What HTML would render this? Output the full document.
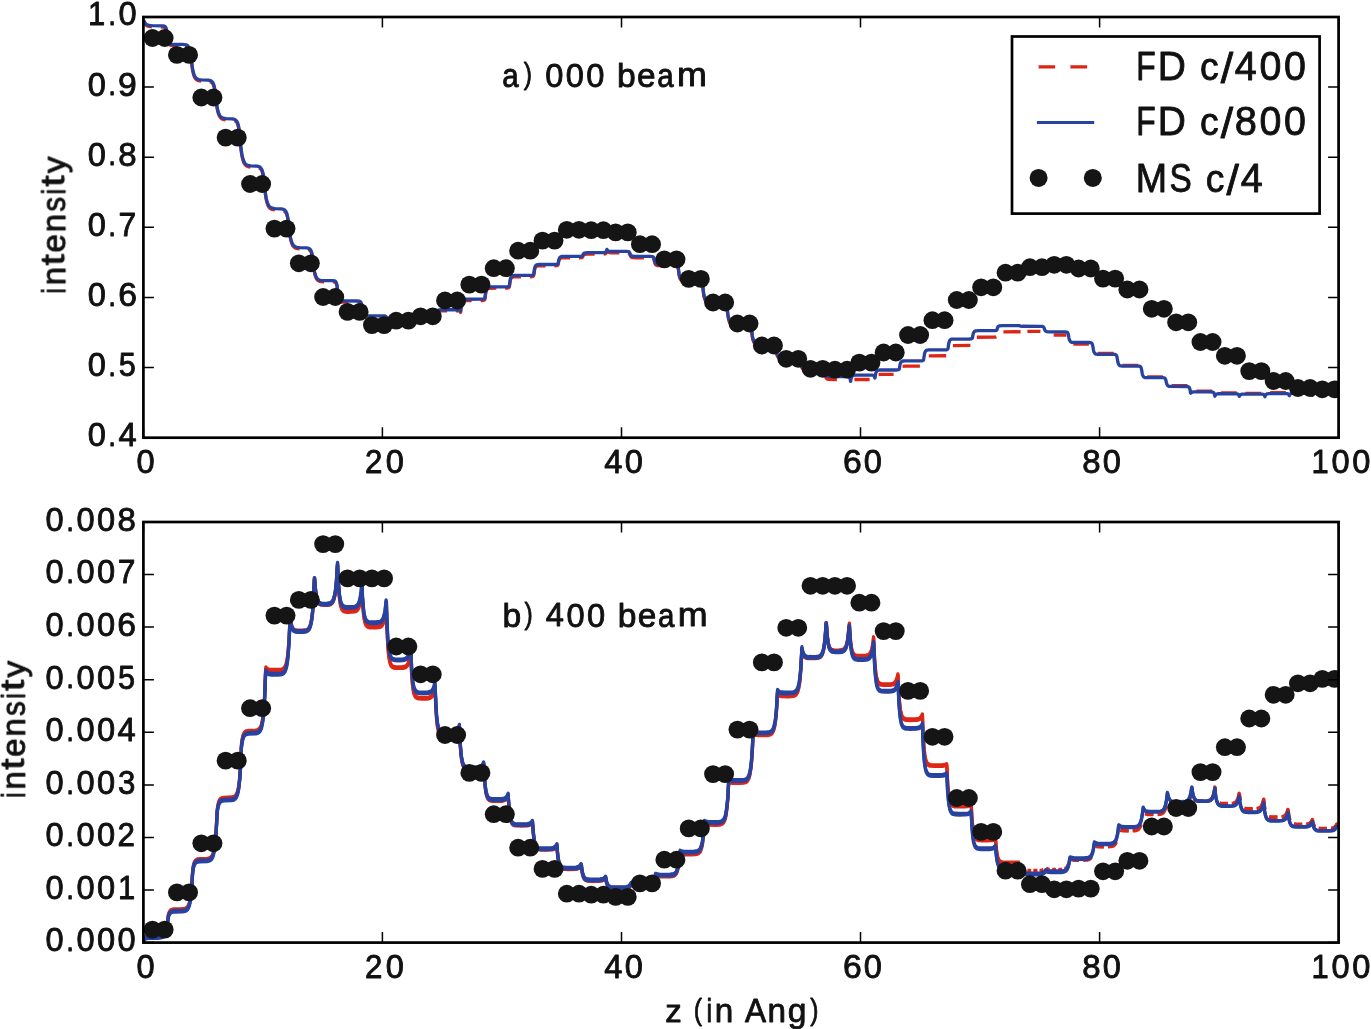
<!DOCTYPE html>
<html lang="en"><head><meta charset="utf-8"><title>FD vs MS beam intensities</title><style>html,body{margin:0;padding:0;background:#fff;}body{width:1371px;height:1029px;overflow:hidden;font-family:"Liberation Sans",sans-serif;}svg{display:block;}</style></head><body>
<svg width="1371" height="1029" viewBox="0 0 1371 1029" font-family="'Liberation Sans', sans-serif" fill="#111111">
<rect width="1371" height="1029" fill="#ffffff"/>
<defs><clipPath id="c1"><rect x="143.4" y="17.0" width="1195.1999999999998" height="420.7"/></clipPath><clipPath id="c2"><rect x="143.4" y="522.0" width="1195.1999999999998" height="420.6"/></clipPath></defs>
<g clip-path="url(#c1)" fill="none" stroke-linejoin="round">
<path d="M143.4,20.17 L143.9,21.62 L144.7,23.23 L145.4,24.36 L146.4,25.36 L147.4,25.98 L148.7,26.44 L150.2,26.73 L151.9,26.88 M160.9,27.00 L162.9,27.04 L164.2,27.21 L164.9,27.56 L165.7,28.45 L166.2,29.74 L166.7,32.19 L167.4,38.50 L167.9,41.23 L168.4,42.92 L169.2,44.31 L169.9,44.98 L171.2,45.42 L172.9,45.57 L176.7,45.60 M185.4,45.88 L186.9,46.37 L187.9,47.11 L188.9,48.54 L189.7,50.44 L190.2,52.36 L190.7,55.04 L191.9,65.67 L192.7,70.59 L193.4,73.95 L194.4,76.84 L195.4,78.58 L196.2,79.41 L196.9,79.98 L197.7,80.36 L198.7,80.70 L201.2,81.06 M209.9,81.63 L210.7,81.89 L211.4,82.30 L212.4,83.26 L213.4,85.05 L214.2,87.35 L214.7,89.60 L215.2,92.68 L216.2,101.75 L216.9,107.23 L217.9,112.07 L218.9,115.07 L219.4,116.12 L220.2,117.28 L221.4,118.50 L222.2,118.95 L223.2,119.35 L225.7,119.80 M234.7,120.66 L235.4,121.06 L236.2,121.70 L237.2,123.18 L237.9,125.07 L238.7,128.11 L239.2,131.09 L239.7,135.15 L240.7,146.33 L241.4,152.60 L242.2,156.98 L243.2,160.85 L243.7,162.20 L244.4,163.70 L245.2,164.75 L245.9,165.49 L246.7,166.00 L247.7,166.46 L248.9,166.79 L250.4,167.00 M259.1,167.85 L260.4,168.63 L261.4,169.87 L262.1,171.47 L262.9,174.02 L263.4,176.53 L263.9,179.95 L264.9,189.96 L265.6,195.98 L266.6,201.29 L267.6,204.59 L268.1,205.74 L268.9,207.02 L269.6,207.91 L270.4,208.54 L271.1,208.98 L272.1,209.37 L273.4,209.65 L274.9,209.83 M283.9,210.75 L284.9,211.41 L285.9,212.64 L286.6,214.22 L287.4,216.74 L287.9,219.22 L288.4,222.60 L289.4,231.84 L290.1,236.99 L290.9,240.60 L291.9,243.78 L292.4,244.89 L293.1,246.12 L293.9,246.99 L294.6,247.59 L295.6,248.13 L296.6,248.46 L297.9,248.70 L299.6,248.87 M308.4,249.43 L309.4,249.88 L310.4,250.83 L311.1,252.14 L311.9,254.41 L312.6,258.32 L313.6,267.04 L314.4,272.04 L315.1,275.35 L316.1,278.08 L316.6,278.98 L317.4,279.94 L318.1,280.57 L318.9,280.98 L319.9,281.33 L320.9,281.53 L324.1,281.75 M332.9,281.84 L334.1,281.96 L335.1,282.32 L335.9,283.04 L336.4,284.02 L336.9,285.77 L337.1,287.12 L337.9,293.45 L338.4,296.58 L339.1,299.31 L339.9,300.72 L340.4,301.25 L340.9,301.59 L342.1,302.00 L344.1,302.17 L348.6,302.20 M357.6,302.21 L359.1,302.30 L359.9,302.51 L360.4,302.84 L360.9,303.55 L361.4,305.04 L361.6,306.33 L362.1,310.37 L362.6,313.28 L363.1,314.93 L363.9,316.17 L364.6,316.70 L365.9,317.00 L373.4,317.10 M382.1,317.10 L384.4,317.16 L385.4,317.39 L385.9,317.70 L386.6,318.69 L387.1,319.12 L387.6,319.37 L388.4,319.56 L390.4,319.69 L397.9,319.70 M406.9,319.70 L410.4,319.65 L411.6,319.36 L411.9,319.21 L412.4,317.63 L412.9,316.58 L413.6,315.79 L414.4,315.45 L416.4,315.23 L422.6,315.20 M431.4,315.20 L434.9,315.14 L435.6,315.02 L436.1,314.81 L436.4,314.44 L436.9,312.91 L437.4,312.04 L437.9,311.55 L438.6,311.18 L440.6,310.93 L447.1,310.90 M455.9,310.90 L458.4,310.95 L459.4,311.14 L460.1,311.63 L460.6,312.43 L461.1,307.85 L461.6,304.69 L462.4,302.32 L462.9,301.55 L463.4,301.12 L464.1,300.79 L465.4,300.61 L471.6,300.55 M480.6,300.55 L482.6,300.51 L483.6,300.37 L484.4,300.01 L484.9,299.41 L485.1,298.23 L485.6,293.87 L486.1,291.39 L486.6,289.99 L487.4,288.94 L488.1,288.49 L489.4,288.23 L496.4,288.15 M505.1,288.15 L507.1,288.11 L508.1,287.95 L508.9,287.55 L509.4,286.88 L509.9,282.77 L510.4,280.17 L511.1,278.21 L511.9,277.37 L512.6,277.02 L513.9,276.81 L520.9,276.75 M529.9,276.75 L532.4,276.59 L533.1,276.27 L533.6,275.73 L533.9,274.61 L534.4,270.82 L534.9,268.67 L535.4,267.45 L536.1,266.53 L536.9,266.14 L538.1,265.92 L545.6,265.85 M554.4,265.85 L556.9,265.71 L557.6,265.41 L558.1,264.93 L558.6,261.98 L559.1,260.15 L559.9,258.78 L560.6,258.19 L561.4,257.94 L562.6,257.80 L570.1,257.75 M578.9,257.75 L581.4,257.67 L582.4,257.40 L583.4,255.31 L584.1,254.59 L584.9,254.28 L586.9,254.07 L594.6,254.05 M603.6,254.02 L605.1,253.81 L605.9,253.32 L606.4,252.50 L606.9,250.80 L607.9,252.05 L608.6,252.45 L609.4,252.62 L611.6,252.74 L619.4,252.75 M628.1,252.88 L628.9,253.16 L629.4,253.61 L630.6,256.36 L631.4,257.16 L632.1,257.50 L634.4,257.73 L643.9,257.75 M652.9,258.12 L653.4,258.54 L653.9,259.41 L654.6,262.34 L655.1,263.80 L655.6,264.62 L656.4,265.24 L657.4,265.55 L658.6,265.66 L668.6,265.70 M677.4,266.55 L677.9,267.49 L678.4,269.47 L679.1,275.17 L679.6,277.52 L680.1,278.85 L680.9,279.85 L681.9,280.36 L683.1,280.54 L693.1,280.60 M701.9,283.08 L702.6,286.19 L703.6,294.37 L704.1,297.12 L704.9,299.61 L705.6,300.94 L706.1,301.47 L706.9,301.95 L708.4,302.34 L710.9,302.48 L717.6,302.50 M726.6,306.24 L727.1,308.93 L727.9,315.42 L728.4,318.46 L729.1,321.20 L729.6,322.29 L730.1,323.00 L730.6,323.47 L731.4,323.90 L732.9,324.26 L735.4,324.38 L742.4,324.40 M751.1,327.96 L751.6,330.90 L752.1,335.43 L752.6,338.62 L753.4,341.35 L753.9,342.36 L754.4,343.00 L755.4,343.66 L757.1,344.01 L766.9,344.10 M775.9,347.80 L776.6,353.24 L777.1,355.43 L777.9,357.07 L778.6,357.78 L779.6,358.13 L781.1,358.27 L791.6,358.30 M800.4,361.75 L800.9,364.75 L801.4,366.68 L802.1,368.12 L802.9,368.74 L803.9,369.05 L805.4,369.17 L816.1,369.20 M824.9,373.16 L825.4,375.87 L825.9,377.44 L826.4,378.33 L827.1,379.00 L827.9,379.29 L829.1,379.45 L836.9,379.50 M854.4,379.52 L869.6,379.50 M878.6,374.54 L881.1,374.41 L893.6,374.40 M902.6,366.28 L905.1,366.11 L919.9,366.10 M928.9,355.83 L946.1,355.73 M952.9,345.54 L970.4,345.45 M976.9,337.25 L994.1,337.19 L995.6,337.09 L996.4,336.87 M1003.4,331.80 L1020.6,331.77 M1027.4,331.30 L1040.4,331.30 M1053.7,335.00 L1064.4,335.01 L1066.4,335.13 M1073.4,343.98 L1088.9,344.01 M1097.9,353.48 L1113.7,353.52 M1122.4,365.28 L1138.2,365.32 M1147.2,376.88 L1162.9,376.93 M1171.7,385.69 L1187.4,385.77 M1196.4,391.10 L1212.2,391.18 M1220.9,392.90 L1236.7,392.96 M1245.4,393.30 L1261.2,393.31 M1270.2,392.71 L1285.9,392.72 M1294.7,392.21 L1308.2,392.20 L1310.4,392.34 M1319.4,392.20 L1335.2,392.20" stroke="#dd2616" stroke-width="3.3"/>
<path d="M143.4,19.79 L144.4,22.07 L145.4,23.48 L146.7,24.52 L148.2,25.17 L149.9,25.53 L152.2,25.71 L163.2,25.86 L164.4,26.09 L165.2,26.56 L165.7,27.25 L165.9,27.79 L166.4,29.57 L167.4,37.30 L168.2,40.98 L168.9,42.75 L169.4,43.39 L169.9,43.78 L170.9,44.16 L172.4,44.35 L182.2,44.43 L184.9,44.60 L185.9,44.80 L186.9,45.17 L187.7,45.68 L188.4,46.50 L188.9,47.34 L189.4,48.50 L189.9,50.12 L190.4,52.39 L190.9,55.55 L192.2,66.32 L192.9,70.66 L193.9,74.38 L194.4,75.64 L195.2,77.02 L195.9,77.97 L196.7,78.61 L197.7,79.16 L198.9,79.56 L201.4,79.88 L208.2,80.14 L209.4,80.31 L210.4,80.59 L211.2,80.94 L211.9,81.51 L212.7,82.41 L213.2,83.29 L213.7,84.50 L214.2,86.15 L214.9,89.82 L215.4,93.43 L216.4,102.60 L217.4,108.74 L218.4,112.55 L218.9,113.87 L219.7,115.35 L220.4,116.39 L221.2,117.11 L222.2,117.75 L223.4,118.22 L225.9,118.63 L232.4,118.96 L234.4,119.37 L235.2,119.71 L235.9,120.25 L236.7,121.12 L237.2,121.98 L237.7,123.14 L238.2,124.73 L238.7,126.91 L239.2,129.89 L239.7,133.95 L240.9,147.47 L241.9,154.49 L242.4,156.93 L243.2,159.65 L243.7,161.00 L244.4,162.50 L245.2,163.55 L245.9,164.29 L246.9,164.94 L248.2,165.41 L250.7,165.82 L256.9,166.15 L258.1,166.35 L259.1,166.65 L259.9,167.04 L260.6,167.67 L261.6,169.12 L262.1,170.27 L262.6,171.84 L263.1,173.98 L263.6,176.90 L264.1,180.90 L265.1,191.01 L266.1,197.75 L266.6,200.09 L267.4,202.71 L267.9,204.00 L268.6,205.44 L269.4,206.45 L270.1,207.16 L271.1,207.78 L272.4,208.24 L274.9,208.63 L281.4,208.95 L283.4,209.35 L284.1,209.68 L284.9,210.21 L285.6,211.06 L286.1,211.89 L286.6,213.02 L287.1,214.57 L287.9,218.02 L288.4,221.40 L289.6,232.56 L290.4,237.14 L290.9,239.40 L291.6,241.92 L292.1,243.17 L292.9,244.56 L293.6,245.53 L294.4,246.21 L295.4,246.81 L296.6,247.26 L299.4,247.65 L307.1,247.97 L308.6,248.31 L309.4,248.68 L309.9,249.07 L310.4,249.63 L310.9,250.42 L311.4,251.57 L311.9,253.21 L312.6,257.12 L313.9,267.74 L314.6,272.10 L315.6,275.70 L316.4,277.36 L317.1,278.46 L317.9,279.18 L318.6,279.66 L319.6,280.06 L320.9,280.33 L324.1,280.55 L333.1,280.65 L334.4,280.82 L335.4,281.29 L336.1,282.26 L336.6,283.57 L337.1,285.92 L337.9,292.25 L338.4,295.38 L339.1,298.11 L339.6,299.15 L340.1,299.81 L340.6,300.24 L341.4,300.61 L343.1,300.92 L358.1,301.02 L359.4,301.15 L360.1,301.44 L360.6,301.93 L360.9,302.35 L361.4,303.84 L362.4,310.83 L362.9,313.02 L363.6,314.67 L364.1,315.20 L364.9,315.60 L365.9,315.80 L367.4,315.88 L382.6,315.90 L384.6,315.99 L385.4,316.19 L385.9,316.50 L386.6,317.49 L387.4,318.07 L388.1,318.31 L389.1,318.44 L410.1,318.46 L411.1,318.34 L411.9,318.01 L412.4,316.43 L412.9,315.38 L413.6,314.59 L414.4,314.25 L415.4,314.08 L416.9,314.01 L433.1,314.00 L435.4,313.87 L436.1,313.61 L436.4,313.24 L436.9,311.71 L437.6,310.56 L438.4,310.07 L439.4,309.82 L442.4,309.70 L458.1,309.74 L459.1,309.86 L459.6,310.03 L460.1,310.40 L460.6,311.16 L461.1,306.55 L461.6,303.37 L462.4,300.98 L462.9,300.21 L463.4,299.77 L464.4,299.38 L465.6,299.24 L481.9,299.19 L483.4,299.08 L484.1,298.83 L484.9,298.06 L485.1,296.88 L485.6,292.52 L486.1,290.04 L486.9,288.19 L487.6,287.39 L488.6,286.99 L490.1,286.83 L506.1,286.79 L507.6,286.71 L508.4,286.51 L508.9,286.20 L509.4,285.53 L509.9,281.42 L510.4,278.82 L511.1,276.86 L511.9,276.02 L512.9,275.60 L514.4,275.44 L530.6,275.39 L532.1,275.29 L532.9,275.07 L533.6,274.38 L533.9,273.26 L534.4,269.47 L534.6,268.24 L535.1,266.62 L535.9,265.41 L536.6,264.89 L537.6,264.62 L539.1,264.52 L554.9,264.49 L556.9,264.36 L557.6,264.06 L558.1,263.58 L558.6,260.63 L559.4,258.21 L560.1,257.17 L561.1,256.65 L562.1,256.48 L563.6,256.41 L579.4,256.40 L581.6,256.29 L582.4,256.05 L583.1,254.37 L583.9,253.41 L584.6,253.00 L585.4,252.83 L587.9,252.71 L602.9,252.69 L604.9,252.53 L605.6,252.19 L606.1,251.63 L606.6,250.46 L606.9,249.45 L607.6,250.47 L608.1,250.87 L608.9,251.17 L609.6,251.30 L612.1,251.39 L626.4,251.41 L628.4,251.59 L628.9,251.81 L629.4,252.26 L629.9,253.21 L630.4,254.56 L630.9,255.35 L631.6,255.95 L632.6,256.26 L635.1,256.39 L650.4,256.41 L652.4,256.58 L652.9,256.78 L653.4,257.20 L653.9,258.09 L654.9,261.92 L655.4,263.04 L656.1,263.88 L657.1,264.30 L659.6,264.49 L674.9,264.52 L676.1,264.63 L676.9,264.90 L677.4,265.35 L677.6,265.74 L678.1,267.10 L678.6,269.97 L679.1,273.97 L679.6,276.32 L680.4,278.08 L681.1,278.84 L682.1,279.22 L683.6,279.37 L698.6,279.47 L700.1,279.77 L700.6,280.04 L701.1,280.50 L701.9,281.88 L702.4,283.66 L702.9,286.72 L703.6,293.17 L704.4,296.93 L705.1,298.95 L705.6,299.74 L706.1,300.27 L706.6,300.62 L707.4,300.93 L709.1,301.21 L723.1,301.38 L724.4,301.63 L724.9,301.86 L725.4,302.26 L726.1,303.47 L726.9,306.20 L727.9,314.22 L728.6,318.37 L729.4,320.60 L729.9,321.48 L730.6,322.27 L731.6,322.79 L733.1,323.08 L735.9,323.19 L747.4,323.24 L748.9,323.44 L749.4,323.63 L749.9,323.99 L750.6,325.15 L751.1,326.76 L751.6,329.70 L752.4,336.01 L752.9,338.54 L753.6,340.71 L754.1,341.52 L754.9,342.21 L755.9,342.62 L757.6,342.84 L772.1,342.91 L773.4,342.99 L774.1,343.17 L774.6,343.48 L775.1,344.11 L775.6,345.45 L775.9,346.60 L776.6,352.04 L777.1,354.23 L777.9,355.87 L778.4,356.40 L778.9,356.71 L779.9,356.97 L781.1,357.07 L796.6,357.11 L797.9,357.18 L798.6,357.36 L799.4,357.88 L799.9,358.74 L800.4,360.55 L800.9,363.55 L801.4,365.48 L802.1,366.92 L802.9,367.54 L803.9,367.85 L805.4,367.97 L820.9,368.01 L822.9,368.17 L823.6,368.51 L824.1,369.08 L824.6,370.28 L825.6,374.32 L826.4,375.63 L827.1,376.18 L828.1,376.47 L829.6,376.58 L846.1,376.61 L848.1,376.72 L849.1,377.14 L849.6,377.74 L850.1,379.00 L850.6,381.36 L851.1,378.65 L851.6,377.11 L852.4,375.96 L852.9,375.59 L853.6,375.31 L854.9,375.15 L856.9,375.11 L870.4,375.10 L872.6,375.20 L873.6,375.56 L874.1,376.06 L874.6,377.12 L874.9,378.03 L875.1,377.17 L875.6,374.07 L876.1,372.31 L876.9,370.99 L877.4,370.56 L877.9,370.32 L878.9,370.10 L880.1,370.02 L896.1,369.99 L897.6,369.92 L898.4,369.74 L899.1,369.21 L899.4,368.64 L899.9,365.29 L900.1,364.21 L900.6,362.78 L901.4,361.70 L902.4,361.16 L903.4,360.98 L904.9,360.92 L920.9,360.88 L921.9,360.81 L922.6,360.64 L923.1,360.35 L923.6,359.75 L924.4,354.48 L924.9,352.50 L925.6,351.01 L926.4,350.37 L927.4,350.05 L928.6,349.94 L944.9,349.89 L946.4,349.80 L947.1,349.59 L947.9,348.94 L948.1,348.17 L948.6,344.20 L948.9,342.92 L949.4,341.22 L949.9,340.26 L950.6,339.54 L951.6,339.17 L953.1,339.03 L969.4,338.99 L971.4,338.80 L971.9,338.58 L972.4,338.12 L973.1,334.12 L973.6,332.64 L974.4,331.53 L975.4,330.97 L976.4,330.79 L977.9,330.72 L995.4,330.63 L996.1,330.48 L996.6,330.25 L996.9,329.84 L997.4,328.01 L997.9,326.96 L998.6,326.18 L999.6,325.79 L1002.4,325.61 L1017.9,325.61 L1019.1,325.69 L1020.6,326.12 L1022.1,326.27 L1040.2,326.30 L1042.2,326.40 L1043.2,326.72 L1043.7,327.19 L1044.2,328.18 L1044.7,329.68 L1045.2,330.60 L1045.9,331.29 L1046.7,331.58 L1049.2,331.79 L1064.9,331.82 L1066.7,332.03 L1067.4,332.49 L1067.9,333.25 L1068.4,334.85 L1068.9,337.77 L1069.4,339.82 L1070.2,341.35 L1070.9,342.01 L1071.9,342.34 L1073.2,342.46 L1088.9,342.51 L1090.4,342.60 L1091.2,342.80 L1091.9,343.42 L1092.4,344.44 L1092.9,346.58 L1093.4,349.80 L1093.9,351.75 L1094.7,353.21 L1095.4,353.83 L1096.4,354.15 L1097.7,354.26 L1113.4,354.31 L1114.7,354.38 L1115.4,354.55 L1115.9,354.83 L1116.4,355.42 L1116.9,356.66 L1117.9,362.22 L1118.4,363.90 L1119.2,365.16 L1119.9,365.70 L1120.9,365.97 L1122.2,366.07 L1137.7,366.11 L1139.2,366.20 L1139.9,366.40 L1140.7,367.02 L1141.2,368.04 L1141.7,370.18 L1142.2,373.33 L1142.7,375.22 L1143.4,376.64 L1144.2,377.25 L1145.2,377.55 L1146.7,377.67 L1162.2,377.71 L1164.2,377.89 L1164.9,378.28 L1165.4,378.93 L1165.9,380.29 L1166.4,382.70 L1166.9,384.34 L1167.4,385.28 L1168.2,385.98 L1169.2,386.33 L1170.7,386.47 L1186.2,386.51 L1188.2,386.71 L1188.7,386.94 L1189.2,387.43 L1189.7,388.45 L1190.2,390.60 L1190.4,392.44 L1190.7,393.27 L1191.2,392.67 L1191.7,392.34 L1192.4,392.09 L1193.4,391.96 L1208.9,391.90 L1212.2,391.98 L1213.2,392.24 L1213.9,392.92 L1214.4,394.05 L1214.9,396.24 L1215.4,395.14 L1216.2,394.32 L1217.2,393.90 L1218.7,393.74 L1234.4,393.70 L1236.9,393.79 L1237.7,393.99 L1238.2,394.30 L1238.7,394.97 L1239.2,396.37 L1239.4,396.38 L1239.9,395.39 L1240.4,394.83 L1241.2,394.41 L1242.2,394.20 L1245.2,394.10 L1261.9,394.13 L1263.2,394.29 L1263.9,394.69 L1264.4,395.35 L1264.9,396.72 L1265.4,395.41 L1266.2,394.32 L1267.2,393.76 L1268.7,393.55 L1286.9,393.57 L1287.9,393.82 L1288.4,394.16 L1288.9,394.90 L1289.2,395.53 L1289.4,395.65 L1289.9,394.50 L1290.7,393.64 L1291.7,393.21 L1292.9,393.05 L1307.4,393.00 L1310.2,393.09 L1310.9,393.28 L1311.4,393.60 L1311.9,394.26 L1312.4,395.39 L1312.9,394.36 L1313.4,393.77 L1314.2,393.33 L1315.4,393.08 L1338.4,393.00" stroke="#28429f" stroke-width="3.3"/>
<g fill="#151515"><circle cx="152.5" cy="38.0" r="8.9"/><circle cx="164.7" cy="38.0" r="8.9"/><circle cx="176.9" cy="54.9" r="8.9"/><circle cx="189.1" cy="54.9" r="8.9"/><circle cx="201.3" cy="97.5" r="8.9"/><circle cx="213.5" cy="97.5" r="8.9"/><circle cx="225.6" cy="137.6" r="8.9"/><circle cx="237.8" cy="137.6" r="8.9"/><circle cx="250.0" cy="184.0" r="8.9"/><circle cx="262.2" cy="184.0" r="8.9"/><circle cx="274.4" cy="228.6" r="8.9"/><circle cx="286.6" cy="228.6" r="8.9"/><circle cx="298.8" cy="263.3" r="8.9"/><circle cx="310.9" cy="263.3" r="8.9"/><circle cx="323.1" cy="297.0" r="8.9"/><circle cx="335.3" cy="297.0" r="8.9"/><circle cx="347.5" cy="311.9" r="8.9"/><circle cx="359.7" cy="311.9" r="8.9"/><circle cx="371.9" cy="325.1" r="8.9"/><circle cx="384.1" cy="325.1" r="8.9"/><circle cx="396.2" cy="320.7" r="8.9"/><circle cx="408.4" cy="320.7" r="8.9"/><circle cx="420.6" cy="316.3" r="8.9"/><circle cx="432.8" cy="316.3" r="8.9"/><circle cx="445.0" cy="300.5" r="8.9"/><circle cx="457.2" cy="300.5" r="8.9"/><circle cx="469.3" cy="284.6" r="8.9"/><circle cx="481.5" cy="284.6" r="8.9"/><circle cx="493.7" cy="268.2" r="8.9"/><circle cx="505.9" cy="268.2" r="8.9"/><circle cx="518.1" cy="250.7" r="8.9"/><circle cx="530.3" cy="250.7" r="8.9"/><circle cx="542.5" cy="240.6" r="8.9"/><circle cx="554.6" cy="240.6" r="8.9"/><circle cx="566.8" cy="229.8" r="8.9"/><circle cx="579.0" cy="229.8" r="8.9"/><circle cx="591.2" cy="230.2" r="8.9"/><circle cx="603.4" cy="230.2" r="8.9"/><circle cx="615.6" cy="232.4" r="8.9"/><circle cx="627.8" cy="232.4" r="8.9"/><circle cx="639.9" cy="244.2" r="8.9"/><circle cx="652.1" cy="244.2" r="8.9"/><circle cx="664.3" cy="259.4" r="8.9"/><circle cx="676.5" cy="259.4" r="8.9"/><circle cx="688.7" cy="278.9" r="8.9"/><circle cx="700.9" cy="278.9" r="8.9"/><circle cx="713.0" cy="302.5" r="8.9"/><circle cx="725.2" cy="302.5" r="8.9"/><circle cx="737.4" cy="323.5" r="8.9"/><circle cx="749.6" cy="323.5" r="8.9"/><circle cx="761.8" cy="345.5" r="8.9"/><circle cx="774.0" cy="345.5" r="8.9"/><circle cx="786.2" cy="358.8" r="8.9"/><circle cx="798.3" cy="358.8" r="8.9"/><circle cx="810.5" cy="368.8" r="8.9"/><circle cx="822.7" cy="368.8" r="8.9"/><circle cx="834.9" cy="369.7" r="8.9"/><circle cx="847.1" cy="369.7" r="8.9"/><circle cx="859.3" cy="362.6" r="8.9"/><circle cx="871.5" cy="362.6" r="8.9"/><circle cx="883.6" cy="352.5" r="8.9"/><circle cx="895.8" cy="352.5" r="8.9"/><circle cx="908.0" cy="335.0" r="8.9"/><circle cx="920.2" cy="335.0" r="8.9"/><circle cx="932.4" cy="320.2" r="8.9"/><circle cx="944.6" cy="320.2" r="8.9"/><circle cx="956.7" cy="300.0" r="8.9"/><circle cx="968.9" cy="300.0" r="8.9"/><circle cx="981.1" cy="287.3" r="8.9"/><circle cx="993.3" cy="287.3" r="8.9"/><circle cx="1005.5" cy="272.7" r="8.9"/><circle cx="1017.7" cy="272.7" r="8.9"/><circle cx="1029.9" cy="267.2" r="8.9"/><circle cx="1042.0" cy="267.2" r="8.9"/><circle cx="1054.2" cy="264.8" r="8.9"/><circle cx="1066.4" cy="264.8" r="8.9"/><circle cx="1078.6" cy="268.5" r="8.9"/><circle cx="1090.8" cy="268.5" r="8.9"/><circle cx="1103.0" cy="278.6" r="8.9"/><circle cx="1115.2" cy="278.6" r="8.9"/><circle cx="1127.3" cy="289.5" r="8.9"/><circle cx="1139.5" cy="289.5" r="8.9"/><circle cx="1151.7" cy="308.8" r="8.9"/><circle cx="1163.9" cy="308.8" r="8.9"/><circle cx="1176.1" cy="322.3" r="8.9"/><circle cx="1188.3" cy="322.3" r="8.9"/><circle cx="1200.4" cy="342.0" r="8.9"/><circle cx="1212.6" cy="342.0" r="8.9"/><circle cx="1224.8" cy="355.8" r="8.9"/><circle cx="1237.0" cy="355.8" r="8.9"/><circle cx="1249.2" cy="371.1" r="8.9"/><circle cx="1261.4" cy="371.1" r="8.9"/><circle cx="1273.6" cy="381.0" r="8.9"/><circle cx="1285.7" cy="381.0" r="8.9"/><circle cx="1297.9" cy="388.0" r="8.9"/><circle cx="1310.1" cy="388.0" r="8.9"/><circle cx="1322.3" cy="389.3" r="8.9"/><circle cx="1334.5" cy="389.3" r="8.9"/></g>
</g>
<g clip-path="url(#c2)" fill="none" stroke-linejoin="round">
<path d="M143.4,939.07 L144.2,937.55 L144.9,936.62 L145.9,935.93 L146.9,935.58 L149.4,935.27 L157.2,935.16 L159.9,935.00 L161.9,934.60 L162.7,934.29 L163.4,933.82 L164.2,933.11 L164.9,932.03 L165.7,930.40 L166.2,928.86 L167.2,924.15 L168.4,914.13 L169.2,912.03 L170.2,910.46 L170.7,909.99 L171.4,909.52 L173.2,909.02 L175.4,908.85 L181.9,908.70 L184.7,908.34 L185.7,907.99 L186.7,907.39 L187.4,906.67 L188.2,905.56 L188.9,903.89 L189.7,901.35 L190.7,895.81 L191.7,886.16 L192.7,869.49 L193.4,865.17 L193.9,863.28 L194.4,861.92 L194.9,860.95 L195.7,859.99 L196.7,859.26 L197.7,858.89 L199.9,858.58 L207.2,858.30 L208.7,858.04 L209.9,857.58 L210.9,856.90 L211.9,855.70 L212.7,854.26 L213.4,852.06 L214.4,847.28 L215.4,838.95 L216.2,828.85 L217.2,809.48 L217.7,806.00 L218.2,803.51 L218.7,801.72 L219.2,800.44 L219.7,799.52 L220.4,798.61 L221.2,798.05 L222.2,797.64 L224.4,797.29 L231.4,797.00 L232.9,796.73 L234.2,796.26 L235.2,795.56 L235.9,794.71 L236.7,793.43 L237.4,791.48 L238.2,788.53 L238.7,785.75 L239.7,777.24 L240.7,762.42 L241.4,744.82 L241.9,740.71 L242.4,737.76 L242.9,735.64 L243.4,734.13 L243.9,733.04 L244.7,731.96 L245.4,731.31 L246.4,730.82 L247.4,730.56 L248.7,730.41 L255.7,730.07 L257.1,729.76 L258.1,729.37 L259.1,728.67 L259.9,727.83 L260.6,726.55 L261.4,724.62 L262.1,721.68 L262.9,717.22 L263.9,707.51 L264.6,695.73 L265.6,670.04 L265.9,666.88 L266.4,667.62 L267.1,668.36 L268.1,668.91 L269.1,669.20 L270.6,669.39 L272.6,669.47 L279.1,669.38 L281.4,669.07 L282.4,668.76 L283.1,668.38 L283.9,667.79 L284.4,667.25 L285.4,665.57 L286.1,663.54 L286.9,660.47 L287.6,655.80 L288.1,651.41 L289.1,637.97 L290.1,615.74 L290.9,621.47 L291.4,623.97 L291.9,625.77 L292.4,627.05 L292.9,627.97 L293.6,628.89 L294.4,629.44 L295.9,629.98 L297.9,630.21 L302.1,630.24 L305.1,629.99 L306.6,629.59 L307.6,629.06 L308.6,628.14 L309.4,627.03 L310.4,624.60 L311.1,621.65 L311.9,617.18 L312.4,612.98 L313.4,600.12 L314.4,577.70 L314.6,577.92 L315.4,588.14 L315.9,592.61 L316.4,595.81 L316.9,598.10 L317.4,599.75 L317.9,600.92 L318.6,602.09 L319.1,602.61 L319.9,603.11 L321.4,603.61 L323.9,603.82 L327.1,603.76 L329.1,603.51 L330.6,603.00 L331.6,602.33 L332.6,601.16 L333.4,599.74 L334.1,597.59 L334.9,594.33 L335.4,591.26 L336.4,581.88 L337.4,565.52 L337.6,564.79 L338.4,582.85 L338.9,590.75 L339.4,596.40 L339.9,600.46 L340.6,604.49 L341.4,606.93 L342.1,608.41 L343.1,609.53 L344.1,610.10 L345.6,610.48 L348.1,610.65 L351.9,610.61 L354.4,610.34 L356.1,609.74 L357.4,608.78 L358.1,607.79 L358.9,606.28 L359.6,603.99 L360.1,601.85 L361.1,595.27 L361.9,587.29 L362.9,605.71 L363.4,611.58 L363.9,615.78 L364.4,618.79 L365.1,621.78 L365.6,623.09 L366.1,624.03 L367.1,625.18 L368.4,625.87 L369.9,626.20 L372.6,626.36 L376.4,626.31 L378.4,626.12 L379.9,625.76 L380.9,625.29 L381.9,624.46 L382.6,623.46 L383.4,621.94 L384.4,618.62 L385.4,612.84 L386.1,605.84 L386.4,608.10 L386.9,624.77 L387.4,636.71 L388.1,648.59 L388.6,653.78 L389.4,658.94 L390.1,662.07 L390.9,663.97 L391.6,665.12 L392.6,665.99 L393.6,666.43 L395.1,666.72 L398.6,666.86 L402.4,666.74 L404.4,666.40 L405.9,665.76 L406.6,665.17 L407.4,664.27 L408.1,662.92 L408.6,661.64 L409.6,657.74 L410.6,650.93 L411.4,668.76 L411.9,676.91 L412.4,682.75 L412.9,686.93 L413.4,689.93 L414.1,692.91 L414.9,694.71 L415.6,695.81 L416.4,696.47 L417.4,696.97 L418.9,697.30 L421.9,697.47 L426.4,697.40 L428.6,697.15 L430.1,696.70 L430.9,696.29 L431.6,695.66 L432.4,694.71 L432.9,693.81 L433.9,691.08 L434.9,686.31 L435.1,688.91 L435.9,707.04 L436.6,718.04 L437.1,722.85 L437.6,726.29 L438.4,729.72 L439.1,731.80 L439.9,733.06 L440.6,733.82 L441.6,734.39 L442.9,734.74 L445.4,734.95 L449.6,734.96 L452.4,734.82 L454.1,734.54 L455.1,734.19 L455.9,733.78 L456.6,733.14 L457.4,732.18 L458.4,730.09 L459.4,726.45 L460.1,742.60 L460.9,752.59 L461.4,756.96 L461.9,760.09 L462.4,762.33 L463.1,764.56 L463.9,765.91 L464.6,766.74 L465.6,767.35 L466.6,767.67 L468.1,767.88 L470.1,767.96 L477.1,767.86 L479.6,767.46 L480.6,767.05 L481.4,766.56 L482.1,765.82 L482.6,765.12 L483.6,762.98 L483.9,765.46 L484.6,778.97 L485.1,784.88 L485.6,789.11 L486.1,792.14 L486.6,794.31 L487.4,796.47 L488.1,797.78 L488.9,798.57 L489.6,799.06 L490.6,799.42 L491.9,799.63 L494.4,799.77 L498.9,799.77 L501.4,799.67 L503.1,799.45 L504.9,798.86 L506.1,797.92 L507.1,796.53 L508.1,794.10 L508.9,806.06 L509.4,811.29 L509.9,815.03 L510.4,817.72 L511.1,820.39 L511.9,822.00 L512.6,822.99 L513.4,823.58 L514.1,823.94 L516.1,824.35 L521.9,824.49 L527.1,824.31 L528.9,824.00 L530.4,823.36 L531.4,822.51 L532.4,821.04 L532.6,823.11 L533.4,833.14 L534.1,839.22 L534.6,841.88 L535.4,844.52 L536.1,846.13 L536.9,847.10 L537.6,847.69 L538.4,848.05 L539.4,848.32 L540.6,848.48 L547.1,848.58 L551.6,848.36 L553.4,847.97 L554.1,847.64 L554.9,847.14 L555.9,846.06 L556.9,844.36 L557.6,853.62 L558.4,859.24 L558.9,861.69 L559.4,863.45 L559.9,864.71 L560.6,865.97 L561.4,866.73 L562.1,867.19 L563.1,867.53 L564.1,867.71 L568.9,867.89 L575.4,867.75 L577.4,867.43 L578.9,866.82 L580.1,865.74 L581.1,864.14 L581.4,865.31 L582.1,870.97 L582.6,873.45 L583.1,875.22 L583.6,876.49 L584.4,877.75 L585.1,878.52 L586.1,879.09 L587.6,879.48 L590.1,879.66 L597.4,879.67 L600.9,879.48 L602.4,879.18 L603.6,878.67 L604.6,877.90 L605.6,876.74 L606.1,879.79 L606.6,881.98 L607.1,883.54 L607.9,885.10 L608.6,886.04 L609.6,886.75 L610.6,887.12 L612.1,887.36 L615.4,887.48 L622.4,887.47 L625.1,887.35 L626.9,887.11 L628.4,886.60 L629.4,885.93 L630.1,885.12 L631.1,883.36 L631.4,883.14 L632.1,883.91 L633.1,884.49 L634.1,884.79 L635.6,884.98 L639.1,885.09 L645.6,885.06 L648.1,884.93 L649.9,884.66 L650.9,884.33 L651.9,883.76 L652.6,883.06 L653.4,882.01 L654.1,880.42 L654.6,878.92 L655.6,874.32 L657.4,874.95 L659.4,875.21 L664.6,875.29 L670.1,875.20 L672.1,875.01 L673.6,874.62 L674.6,874.12 L675.6,873.24 L676.4,872.18 L677.1,870.56 L678.1,867.04 L679.1,860.91 L680.1,851.81 L680.6,852.23 L681.4,852.65 L682.4,852.97 L683.4,853.13 L686.4,853.28 L692.4,853.26 L695.1,853.12 L696.9,852.82 L698.4,852.20 L699.4,851.38 L700.4,849.95 L701.1,848.22 L701.9,845.59 L702.4,843.12 L703.4,835.56 L704.4,822.37 L706.1,823.23 L708.4,823.59 L715.6,823.67 L719.6,823.43 L721.4,822.98 L722.6,822.26 L723.6,821.18 L724.6,819.31 L725.4,817.05 L726.1,813.61 L727.1,806.11 L727.9,797.02 L728.6,783.23 L728.9,780.32 L729.6,780.90 L730.4,781.26 L731.4,781.52 L732.6,781.68 L739.4,781.77 L743.6,781.54 L745.4,781.12 L746.6,780.45 L747.6,779.44 L748.6,777.69 L749.4,775.56 L750.1,772.34 L750.9,767.45 L751.4,762.85 L752.4,748.77 L753.1,731.70 L754.1,732.87 L755.1,733.47 L756.6,733.87 L758.6,734.04 L764.4,734.07 L767.9,733.90 L769.1,733.69 L770.1,733.39 L770.9,733.03 L771.6,732.47 L772.6,731.27 L773.6,729.16 L774.4,726.61 L775.1,722.74 L775.9,716.86 L776.4,711.34 L777.4,694.43 L777.6,691.99 L778.1,692.90 L778.9,693.81 L779.6,694.35 L780.4,694.69 L781.4,694.94 L782.9,695.10 L787.6,695.18 L791.9,695.02 L794.1,694.57 L795.1,694.09 L795.9,693.52 L796.6,692.66 L797.1,691.84 L797.9,690.11 L798.6,687.47 L799.4,683.48 L799.9,679.72 L800.9,668.23 L801.9,648.51 L802.6,651.89 L803.1,653.37 L803.6,654.42 L804.1,655.18 L804.9,655.94 L805.6,656.39 L806.4,656.67 L808.1,656.97 L810.9,657.07 L815.1,657.02 L817.6,656.79 L819.1,656.39 L820.1,655.86 L821.1,654.94 L821.9,653.83 L822.6,652.14 L823.4,649.58 L824.4,643.99 L825.4,634.25 L826.1,622.43 L826.4,622.91 L826.9,630.62 L827.4,636.14 L827.9,640.10 L828.6,644.03 L829.4,646.42 L830.1,647.87 L831.1,648.95 L831.9,649.40 L832.6,649.68 L834.1,649.94 L836.4,650.04 L839.4,649.98 L841.4,649.75 L842.6,649.40 L843.6,648.89 L844.4,648.26 L845.1,647.31 L845.9,645.87 L846.4,644.51 L847.4,640.36 L848.1,635.33 L849.1,624.36 L849.4,623.19 L849.9,632.35 L850.4,638.91 L850.9,643.61 L851.4,646.98 L852.1,650.33 L852.9,652.37 L853.9,653.89 L854.9,654.67 L856.1,655.14 L857.9,655.39 L861.1,655.47 L864.6,655.37 L866.1,655.21 L867.4,654.92 L868.4,654.49 L869.4,653.73 L870.1,652.82 L870.9,651.44 L871.9,648.42 L872.9,643.16 L873.6,636.78 L874.6,658.61 L875.4,668.56 L875.9,672.91 L876.4,676.02 L876.9,678.26 L877.6,680.48 L878.4,681.82 L879.1,682.64 L880.1,683.25 L881.4,683.62 L883.9,683.84 L888.6,683.84 L891.1,683.66 L892.9,683.28 L893.9,682.82 L894.6,682.25 L895.4,681.40 L895.9,680.61 L896.9,678.16 L897.9,673.89 L898.1,675.29 L898.6,687.65 L899.1,696.51 L899.9,705.32 L900.4,709.17 L900.9,711.93 L901.6,714.67 L902.4,716.33 L903.1,717.34 L903.9,717.96 L904.9,718.42 L905.9,718.65 L907.6,718.82 L910.4,718.88 L914.1,718.85 L916.6,718.70 L918.6,718.28 L919.4,717.97 L920.1,717.48 L920.9,716.75 L921.4,716.07 L922.4,713.96 L923.1,733.06 L923.9,745.55 L924.4,751.01 L924.9,754.92 L925.4,757.72 L926.1,760.50 L926.9,762.19 L927.9,763.46 L929.1,764.22 L930.6,764.59 L934.6,764.78 L942.4,764.69 L944.9,764.37 L945.9,764.05 L946.6,763.66 L946.9,765.99 L947.6,781.49 L948.1,788.27 L948.6,793.13 L949.1,796.61 L949.6,799.10 L950.4,801.58 L951.1,803.08 L951.6,803.74 L952.4,804.39 L953.4,804.88 L954.4,805.13 L957.6,805.37 L964.1,805.34 L966.9,805.12 L968.6,804.66 L969.4,804.28 L970.1,803.71 L971.1,802.45 L971.9,816.43 L972.4,822.88 L972.9,827.51 L973.4,830.82 L974.1,834.12 L974.9,836.12 L975.6,837.33 L976.4,838.07 L977.4,838.62 L978.6,838.95 L980.6,839.13 L986.9,839.19 L991.4,839.09 L993.6,838.80 L994.6,838.50 L995.4,838.14 L995.6,839.61 L996.4,848.50 L997.1,853.89 L997.6,856.24 L998.1,857.93 L998.9,859.61 L999.6,860.63 L1000.4,861.25 L1001.1,861.62 L1002.1,861.90 L1003.6,862.09 L1010.1,862.20 L1019.9,862.10 M1021.1,866.80 L1021.9,868.26 L1022.6,869.14 L1023.6,869.80 L1024.9,870.20 M1027.4,870.44 L1031.2,870.49 M1033.4,870.50 L1037.4,870.47 M1039.7,870.39 L1041.9,870.13 L1043.4,869.64 M1045.9,867.95 L1046.7,868.56 L1047.4,868.93 L1048.4,869.21 L1049.7,869.37 M1052.2,869.48 L1055.9,869.49 M1058.4,869.48 L1062.2,869.33 M1064.7,868.82 L1065.9,868.13 L1066.9,867.12 L1067.7,865.88 L1068.4,864.01 M1070.7,857.32 L1071.7,858.04 L1073.2,858.52 L1075.2,858.73 L1078.9,858.79 M1083.2,858.77 L1086.7,858.60 L1088.7,858.17 L1089.4,857.84 L1090.2,857.33 L1090.9,856.55 L1091.4,855.83 M1095.7,844.77 L1096.7,845.22 L1098.2,845.53 L1103.9,845.74 M1107.9,845.73 L1111.4,845.48 L1112.4,845.25 L1113.4,844.84 L1114.2,844.35 L1114.9,843.59 L1115.7,842.44 L1116.2,841.35 M1120.4,829.20 L1121.4,829.63 L1122.9,829.93 L1128.7,830.13 M1132.7,830.10 L1134.7,829.99 L1136.2,829.76 L1137.2,829.44 L1138.2,828.89 L1138.9,828.21 L1139.7,827.18 L1140.4,825.62 L1140.9,824.15 M1145.2,813.04 L1146.2,813.54 L1147.7,813.89 L1149.9,814.05 L1153.4,814.09 M1157.7,814.01 L1159.7,813.84 L1161.2,813.50 L1162.2,813.05 L1163.2,812.26 L1163.9,811.32 L1164.7,809.88 L1165.4,807.69 L1165.9,805.64 M1169.9,801.86 L1170.9,802.75 L1172.4,803.35 L1174.4,803.61 L1178.2,803.68 M1182.4,803.61 L1184.4,803.43 L1185.9,803.08 L1186.9,802.62 L1187.9,801.82 L1188.7,800.85 L1189.4,799.37 L1190.2,797.14 L1190.7,795.04 M1194.7,798.84 L1195.7,799.84 L1196.4,800.26 L1197.2,800.51 L1199.2,800.80 L1202.9,800.87 M1207.2,800.71 L1208.9,800.39 L1210.2,799.88 L1211.2,799.12 L1212.2,797.81 L1212.9,796.21 L1213.7,793.78 L1214.2,791.50 L1214.9,787.02 L1215.4,791.69 M1219.7,802.81 L1220.7,803.14 L1222.2,803.37 L1227.9,803.48 M1231.9,803.32 L1233.4,803.08 L1234.7,802.66 L1235.7,802.03 L1236.7,800.94 L1237.4,799.62 L1238.2,797.61 L1239.2,793.24 L1239.4,794.18 L1240.2,799.89 M1244.4,808.18 L1245.4,808.43 L1246.9,808.60 L1252.7,808.68 M1256.7,808.49 L1258.2,808.23 L1259.4,807.75 L1260.4,807.05 L1261.2,806.19 L1261.9,804.89 L1262.4,803.67 L1263.7,799.16 L1264.2,804.19 L1264.9,809.19 M1269.2,816.45 L1270.2,816.67 L1271.7,816.81 L1277.4,816.88 M1281.7,816.67 L1282.9,816.43 L1283.9,816.08 L1284.9,815.47 L1285.7,814.73 L1286.4,813.61 L1286.9,812.56 L1287.9,809.34 L1288.2,810.49 L1288.9,815.89 L1289.4,818.24 L1289.9,819.93 M1293.9,823.90 L1296.7,824.15 L1302.2,824.18 M1306.4,824.02 L1308.7,823.56 L1309.4,823.23 L1310.2,822.74 L1311.2,821.65 L1312.4,819.44 L1312.9,821.98 L1313.4,823.80 L1313.9,825.10 L1314.7,826.40 M1318.7,828.26 L1321.4,828.38 L1326.9,828.38 M1331.2,828.20 L1332.9,827.86 L1334.2,827.33 L1334.9,826.77 L1335.7,825.93 L1336.7,824.10 L1336.9,823.90 L1338.4,823.90" stroke="#dd2616" stroke-width="3.3"/>
<path d="M143.4,940.67 L144.2,939.15 L144.9,938.22 L145.9,937.53 L146.9,937.18 L149.4,936.87 L157.2,936.76 L159.9,936.60 L161.9,936.20 L162.7,935.89 L163.4,935.42 L164.2,934.71 L164.9,933.63 L165.7,932.00 L166.2,930.46 L167.2,925.75 L168.4,915.73 L169.2,913.63 L170.2,912.06 L170.7,911.59 L171.4,911.12 L173.2,910.62 L175.4,910.45 L181.9,910.30 L184.7,909.94 L185.7,909.59 L186.7,908.99 L187.4,908.27 L188.2,907.16 L188.9,905.49 L189.7,902.95 L190.7,897.41 L191.7,887.76 L192.7,871.09 L193.4,866.77 L193.9,864.88 L194.4,863.52 L194.9,862.55 L195.7,861.59 L196.7,860.86 L197.7,860.49 L199.9,860.18 L207.2,859.90 L208.7,859.64 L209.9,859.18 L210.9,858.50 L211.9,857.30 L212.7,855.86 L213.4,853.66 L214.4,848.88 L215.4,840.55 L216.2,830.45 L217.2,811.08 L217.7,807.60 L218.2,805.11 L218.7,803.32 L219.2,802.04 L219.7,801.12 L220.4,800.21 L221.2,799.65 L222.2,799.24 L224.4,798.89 L231.4,798.60 L232.9,798.33 L234.2,797.86 L235.2,797.16 L235.9,796.31 L236.7,795.03 L237.4,793.08 L238.2,790.13 L238.7,787.35 L239.7,778.84 L240.7,764.02 L241.4,746.42 L241.9,742.31 L242.4,739.36 L242.9,737.24 L243.4,735.73 L243.9,734.64 L244.7,733.56 L245.4,732.91 L246.4,732.42 L247.4,732.16 L248.7,732.01 L255.7,731.67 L257.1,731.36 L258.1,730.97 L259.1,730.27 L259.9,729.43 L260.6,728.15 L261.4,726.22 L262.1,723.28 L262.9,718.82 L263.9,709.11 L264.6,697.33 L265.6,671.64 L265.9,668.48 L266.4,669.22 L267.1,669.96 L268.1,670.51 L269.1,670.80 L270.6,670.99 L272.6,671.07 L279.1,670.98 L281.4,670.67 L282.4,670.36 L283.1,669.98 L283.9,669.39 L284.4,668.85 L285.4,667.17 L286.1,665.14 L286.9,662.07 L287.6,657.40 L288.1,653.01 L289.1,639.57 L290.1,617.34 L290.9,623.07 L291.4,625.57 L291.9,627.37 L292.4,628.65 L292.9,629.57 L293.6,630.49 L294.4,631.04 L295.9,631.58 L297.9,631.81 L302.1,631.84 L305.1,631.59 L306.6,631.19 L307.6,630.66 L308.6,629.74 L309.4,628.63 L310.4,626.20 L311.1,623.25 L311.9,618.78 L312.4,614.58 L313.4,601.72 L314.4,579.30 L314.6,579.52 L315.4,589.74 L315.9,594.21 L316.4,597.41 L316.9,599.70 L317.4,601.35 L317.9,602.52 L318.6,603.69 L319.1,604.21 L319.9,604.71 L321.4,605.21 L323.9,605.42 L327.1,605.36 L329.1,605.11 L330.6,604.60 L331.6,603.93 L332.6,602.76 L333.4,601.34 L334.1,599.19 L334.9,595.93 L335.4,592.86 L336.4,583.48 L337.4,567.12 L337.6,566.39 L338.4,584.45 L338.9,592.35 L339.4,598.00 L339.9,602.06 L340.6,606.09 L341.4,608.53 L342.1,610.01 L343.1,611.13 L344.1,611.70 L345.6,612.08 L348.1,612.25 L351.9,612.21 L354.4,611.94 L356.1,611.34 L357.4,610.38 L358.1,609.39 L358.9,607.88 L359.6,605.59 L360.1,603.45 L361.1,596.87 L361.9,588.89 L362.9,607.31 L363.4,613.18 L363.9,617.38 L364.4,620.39 L365.1,623.38 L365.6,624.69 L366.1,625.63 L367.1,626.78 L368.4,627.47 L369.9,627.80 L372.6,627.96 L376.4,627.91 L378.4,627.72 L379.9,627.36 L380.9,626.89 L381.9,626.06 L382.6,625.06 L383.4,623.54 L384.4,620.22 L385.4,614.44 L386.1,607.44 L386.4,609.70 L386.9,626.37 L387.4,638.31 L388.1,650.19 L388.6,655.38 L389.4,660.54 L390.1,663.67 L390.9,665.57 L391.6,666.72 L392.6,667.59 L393.6,668.03 L395.1,668.32 L398.6,668.46 L402.4,668.34 L404.4,668.00 L405.9,667.36 L406.6,666.77 L407.4,665.87 L408.1,664.52 L408.6,663.24 L409.6,659.34 L410.6,652.53 L411.4,670.36 L411.9,678.51 L412.4,684.35 L412.9,688.53 L413.4,691.53 L414.1,694.51 L414.9,696.31 L415.6,697.41 L416.4,698.07 L417.4,698.57 L418.9,698.90 L421.9,699.07 L426.4,699.00 L428.6,698.75 L430.1,698.30 L430.9,697.89 L431.6,697.26 L432.4,696.31 L432.9,695.41 L433.9,692.68 L434.9,687.91 L435.1,690.51 L435.9,708.64 L436.6,719.64 L437.1,724.45 L437.6,727.89 L438.4,731.32 L439.1,733.40 L439.9,734.66 L440.6,735.42 L441.6,735.99 L442.9,736.34 L445.4,736.55 L449.6,736.56 L452.4,736.42 L454.1,736.14 L455.1,735.79 L455.9,735.38 L456.6,734.74 L457.4,733.78 L458.4,731.69 L459.4,728.05 L460.1,744.20 L460.9,754.19 L461.4,758.56 L461.9,761.69 L462.4,763.93 L463.1,766.16 L463.9,767.51 L464.6,768.34 L465.6,768.95 L466.6,769.27 L468.1,769.48 L470.1,769.56 L477.1,769.46 L479.6,769.06 L480.6,768.65 L481.4,768.16 L482.1,767.42 L482.6,766.72 L483.6,764.58 L483.9,767.06 L484.6,780.57 L485.1,786.48 L485.6,790.71 L486.1,793.74 L486.6,795.91 L487.4,798.07 L488.1,799.38 L488.9,800.17 L489.6,800.66 L490.6,801.02 L491.9,801.23 L494.4,801.37 L498.9,801.37 L501.4,801.27 L503.1,801.05 L504.9,800.46 L506.1,799.52 L507.1,798.13 L508.1,795.70 L508.9,807.66 L509.4,812.89 L509.9,816.63 L510.4,819.32 L511.1,821.99 L511.9,823.60 L512.6,824.59 L513.4,825.18 L514.1,825.54 L516.1,825.95 L521.9,826.09 L527.1,825.91 L528.9,825.60 L530.4,824.96 L531.4,824.11 L532.4,822.64 L532.6,824.71 L533.4,834.74 L534.1,840.82 L534.6,843.48 L535.4,846.12 L536.1,847.73 L536.9,848.70 L537.6,849.29 L538.4,849.65 L539.4,849.92 L540.6,850.08 L547.1,850.18 L551.6,849.96 L553.4,849.57 L554.1,849.24 L554.9,848.74 L555.9,847.66 L556.9,845.96 L557.6,855.22 L558.4,860.84 L558.9,863.29 L559.4,865.05 L559.9,866.31 L560.6,867.57 L561.4,868.33 L562.1,868.79 L563.1,869.13 L564.1,869.31 L568.9,869.49 L575.4,869.35 L577.4,869.03 L578.9,868.42 L580.1,867.34 L581.1,865.74 L581.4,866.91 L582.1,872.57 L582.6,875.05 L583.1,876.82 L583.6,878.09 L584.4,879.35 L585.1,880.12 L586.1,880.69 L587.6,881.08 L590.1,881.26 L597.4,881.27 L600.9,881.08 L602.4,880.78 L603.6,880.27 L604.6,879.50 L605.6,878.34 L606.1,881.39 L606.6,883.58 L607.1,885.14 L607.9,886.70 L608.6,887.64 L609.6,888.35 L610.6,888.72 L612.1,888.96 L615.4,889.08 L622.4,889.07 L625.1,888.95 L626.9,888.71 L628.4,888.20 L629.4,887.53 L630.1,886.72 L631.1,884.96 L631.4,884.74 L632.1,885.51 L633.1,886.09 L634.1,886.39 L635.6,886.58 L639.1,886.69 L645.6,886.66 L648.1,886.53 L649.9,886.26 L650.9,885.93 L651.9,885.36 L652.6,884.66 L653.4,883.61 L654.1,882.02 L654.6,880.52 L655.6,875.92 L657.4,876.55 L659.4,876.81 L664.6,876.89 L670.1,876.80 L672.1,876.61 L673.6,876.22 L674.6,875.72 L675.6,874.84 L676.4,873.78 L677.1,872.16 L678.1,868.64 L679.1,862.51 L680.1,853.41 L680.6,853.83 L681.4,854.25 L682.4,854.57 L683.4,854.73 L686.4,854.88 L692.4,854.86 L695.1,854.72 L696.9,854.42 L698.4,853.80 L699.4,852.98 L700.4,851.55 L701.1,849.82 L701.9,847.19 L702.4,844.72 L703.4,837.16 L704.4,823.97 L706.1,824.83 L708.4,825.19 L715.6,825.27 L719.6,825.03 L721.4,824.58 L722.6,823.86 L723.6,822.78 L724.6,820.91 L725.4,818.65 L726.1,815.21 L727.1,807.71 L727.9,798.62 L728.6,784.83 L728.9,781.92 L729.6,782.50 L730.4,782.86 L731.4,783.12 L732.6,783.28 L739.4,783.37 L743.6,783.14 L745.4,782.72 L746.6,782.05 L747.6,781.04 L748.6,779.29 L749.4,777.16 L750.1,773.94 L750.9,769.05 L751.4,764.45 L752.4,750.37 L753.1,733.30 L754.1,734.47 L755.1,735.07 L756.6,735.47 L758.6,735.64 L764.4,735.67 L767.9,735.50 L769.1,735.29 L770.1,734.99 L770.9,734.63 L771.6,734.07 L772.6,732.87 L773.6,730.76 L774.4,728.21 L775.1,724.34 L775.9,718.46 L776.4,712.94 L777.4,696.03 L777.6,693.59 L778.1,694.50 L778.9,695.41 L779.6,695.95 L780.4,696.29 L781.4,696.54 L782.9,696.70 L787.6,696.78 L791.9,696.62 L794.1,696.17 L795.1,695.69 L795.9,695.12 L796.6,694.26 L797.1,693.44 L797.9,691.71 L798.6,689.07 L799.4,685.08 L799.9,681.32 L800.9,669.83 L801.9,650.11 L802.6,653.49 L803.1,654.97 L803.6,656.02 L804.1,656.78 L804.9,657.54 L805.6,657.99 L806.4,658.27 L808.1,658.57 L810.9,658.67 L815.1,658.62 L817.6,658.39 L819.1,657.99 L820.1,657.46 L821.1,656.54 L821.9,655.43 L822.6,653.74 L823.4,651.18 L824.4,645.59 L825.4,635.85 L826.1,624.03 L826.4,624.51 L826.9,632.22 L827.4,637.74 L827.9,641.70 L828.6,645.63 L829.4,648.02 L830.1,649.47 L831.1,650.55 L831.9,651.00 L832.6,651.28 L834.1,651.54 L836.4,651.64 L839.4,651.58 L841.4,651.35 L842.6,651.00 L843.6,650.49 L844.4,649.86 L845.1,648.91 L845.9,647.47 L846.4,646.11 L847.4,641.96 L848.1,636.93 L849.1,625.96 L849.4,624.79 L849.9,633.95 L850.4,640.51 L850.9,645.21 L851.4,648.58 L852.1,651.93 L852.9,653.97 L853.9,655.49 L854.9,656.27 L856.1,656.74 L857.9,656.99 L861.1,657.07 L864.6,656.97 L866.1,656.81 L867.4,656.52 L868.4,656.09 L869.4,655.33 L870.1,654.42 L870.9,653.04 L871.9,650.02 L872.9,644.76 L873.6,638.38 L874.6,660.21 L875.4,670.16 L875.9,674.51 L876.4,677.62 L876.9,679.86 L877.6,682.08 L878.4,683.42 L879.1,684.24 L880.1,684.85 L881.4,685.22 L883.9,685.44 L888.6,685.44 L891.1,685.26 L892.9,684.88 L893.9,684.42 L894.6,683.85 L895.4,683.00 L895.9,682.21 L896.9,679.76 L897.9,675.49 L898.1,676.89 L898.6,689.25 L899.1,698.11 L899.9,706.92 L900.4,710.77 L900.9,713.53 L901.6,716.27 L902.4,717.93 L903.1,718.94 L903.9,719.56 L904.9,720.02 L905.9,720.25 L907.6,720.42 L910.4,720.48 L914.1,720.45 L916.6,720.30 L918.6,719.88 L919.4,719.57 L920.1,719.08 L920.9,718.35 L921.4,717.67 L922.4,715.56 L923.1,734.66 L923.9,747.15 L924.4,752.61 L924.9,756.52 L925.4,759.32 L926.1,762.10 L926.9,763.79 L927.9,765.06 L929.1,765.82 L930.6,766.19 L934.6,766.38 L942.4,766.29 L944.9,765.97 L945.9,765.65 L946.6,765.26 L946.9,767.59 L947.6,783.09 L948.1,789.87 L948.6,794.73 L949.1,798.21 L949.6,800.70 L950.4,803.18 L951.1,804.68 L951.6,805.34 L952.4,805.99 L953.4,806.48 L954.4,806.73 L957.6,806.97 L964.1,806.94 L966.9,806.72 L968.6,806.26 L969.4,805.88 L970.1,805.31 L971.1,804.05 L971.9,818.03 L972.4,824.48 L972.9,829.11 L973.4,832.42 L974.1,835.72 L974.9,837.72 L975.6,838.93 L976.4,839.67 L977.4,840.22 L978.6,840.55 L980.6,840.73 L986.9,840.79 L991.4,840.69 L993.6,840.40 L994.6,840.10 L995.4,839.74 L995.6,841.21 L996.4,850.10 L997.1,855.49 L997.6,857.84 L998.1,859.53 L998.9,861.21 L999.6,862.23 L1000.4,862.85 L1001.1,863.22 L1002.1,863.50 L1003.6,863.69 L1010.1,863.80 L1019.9,863.70 M1021.1,868.40 L1021.9,869.86 L1022.6,870.74 L1023.6,871.40 L1024.9,871.80 M1027.4,872.04 L1031.2,872.09 M1033.4,872.10 L1037.4,872.07 M1039.7,871.99 L1041.9,871.73 L1043.4,871.24 M1045.9,869.55 L1046.7,870.16 L1047.4,870.53 L1048.4,870.81 L1049.7,870.97 M1052.2,871.08 L1055.9,871.09 M1058.4,871.08 L1062.2,870.93 M1064.7,870.42 L1065.9,869.73 L1066.9,868.72 L1067.7,867.48 L1068.4,865.61 M1070.7,858.92 L1071.7,859.64 L1073.2,860.12 L1075.2,860.33 L1078.9,860.39 M1083.2,860.37 L1086.4,860.20 L1087.7,860.00 L1088.7,859.72 L1089.4,859.37 L1090.2,858.85 L1090.9,858.06 L1091.4,857.33 M1095.7,846.21 L1096.7,846.64 L1098.2,846.93 L1103.9,847.05 M1107.9,846.98 L1111.4,846.68 L1112.4,846.43 L1113.4,846.01 L1114.2,845.50 L1114.9,844.73 L1115.7,843.57 L1116.2,842.47 M1120.4,830.26 L1121.4,830.67 L1122.9,830.94 L1128.7,831.05 M1132.7,830.97 L1134.7,830.83 L1136.2,830.57 L1137.2,830.24 L1138.2,829.67 L1138.9,828.98 L1139.7,827.94 L1140.4,826.37 L1140.9,824.89 M1145.2,813.71 L1146.2,814.20 L1147.7,814.52 L1153.4,814.69 M1157.7,814.61 L1159.7,814.44 L1161.2,814.10 L1162.2,813.65 L1163.2,812.86 L1163.9,811.92 L1164.7,810.48 L1165.4,808.29 L1165.9,806.24 M1169.9,802.46 L1170.9,803.35 L1172.4,803.95 L1174.4,804.21 L1178.2,804.28 M1182.4,804.21 L1184.4,804.03 L1185.9,803.68 L1186.9,803.22 L1187.9,802.42 L1188.7,801.45 L1189.4,799.97 L1190.2,797.74 L1190.7,795.64 M1194.7,799.44 L1195.7,800.44 L1196.4,800.86 L1197.2,801.11 L1199.2,801.40 L1202.9,801.47 M1207.2,801.31 L1208.9,800.99 L1210.2,800.48 L1211.2,799.72 L1212.2,798.41 L1212.9,796.81 L1213.7,794.38 L1214.2,792.10 L1214.9,787.62 L1215.4,792.29 M1219.7,803.41 L1220.7,803.74 L1222.2,803.97 L1227.9,804.08 M1231.9,803.92 L1233.4,803.68 L1234.7,803.26 L1235.7,802.63 L1236.7,801.54 L1237.4,800.22 L1238.2,798.21 L1239.2,793.84 L1239.4,794.78 L1240.2,800.49 M1244.4,808.78 L1245.4,809.03 L1246.9,809.20 L1252.7,809.28 M1256.7,809.09 L1258.2,808.83 L1259.4,808.35 L1260.4,807.65 L1261.2,806.79 L1261.9,805.49 L1262.4,804.27 L1263.7,799.76 L1264.2,804.79 L1264.9,809.79 M1269.2,817.05 L1270.2,817.27 L1271.7,817.41 L1277.4,817.48 M1281.7,817.27 L1282.9,817.03 L1283.9,816.68 L1284.9,816.07 L1285.7,815.33 L1286.4,814.21 L1286.9,813.16 L1287.9,809.94 L1288.2,811.09 L1288.9,816.49 L1289.4,818.84 L1289.9,820.53 M1293.9,824.50 L1296.7,824.75 L1302.2,824.78 M1306.4,824.62 L1308.7,824.16 L1309.4,823.83 L1310.2,823.34 L1311.2,822.25 L1312.4,820.04 L1312.9,822.58 L1313.4,824.40 L1313.9,825.70 L1314.7,827.00 M1318.7,828.86 L1321.4,828.98 L1326.9,828.98 M1331.2,828.80 L1332.9,828.46 L1334.2,827.93 L1334.9,827.37 L1335.7,826.53 L1336.7,824.70 L1336.9,824.50 L1338.4,824.50" stroke="#dd2616" stroke-width="3.3"/>
<path d="M143.4,939.69 L143.9,938.84 L144.7,938.00 L145.7,937.37 L146.7,937.04 L149.2,936.76 L157.2,936.66 L159.9,936.50 L161.9,936.10 L162.7,935.80 L163.4,935.33 L164.2,934.62 L164.9,933.55 L165.7,931.91 L166.2,930.38 L167.2,925.69 L168.4,915.71 L169.2,913.62 L170.2,912.05 L170.7,911.58 L171.4,911.12 L173.2,910.62 L175.4,910.45 L182.2,910.29 L183.7,910.13 L184.9,909.87 L185.9,909.47 L186.9,908.78 L187.7,907.95 L188.4,906.68 L189.2,904.76 L189.7,902.95 L190.7,897.41 L191.7,887.76 L192.7,871.09 L193.4,866.77 L193.9,864.88 L194.4,863.52 L194.9,862.55 L195.7,861.59 L196.7,860.86 L197.7,860.49 L199.9,860.18 L207.2,859.90 L208.7,859.64 L209.9,859.19 L210.9,858.51 L211.9,857.32 L212.7,855.89 L213.4,853.71 L214.4,848.96 L215.4,840.68 L216.2,830.64 L217.2,811.40 L217.7,807.94 L218.2,805.47 L218.7,803.69 L219.2,802.42 L219.7,801.50 L220.4,800.60 L221.2,800.05 L222.2,799.63 L224.4,799.29 L231.4,799.00 L232.9,798.73 L234.2,798.26 L235.2,797.57 L235.9,796.72 L236.7,795.44 L237.4,793.50 L238.2,790.55 L238.7,787.78 L239.7,779.30 L240.7,764.52 L241.4,746.98 L241.9,742.88 L242.4,739.93 L242.9,737.83 L243.4,736.32 L243.9,735.23 L244.7,734.16 L245.4,733.51 L246.4,733.02 L247.4,732.76 L248.7,732.61 L255.7,732.27 L257.1,731.97 L258.1,731.58 L259.1,730.89 L259.9,730.07 L260.6,728.81 L261.4,726.90 L262.1,724.00 L262.9,719.61 L263.9,710.03 L264.6,698.42 L265.6,673.09 L265.9,670.06 L266.4,671.04 L267.1,672.01 L267.9,672.59 L268.9,673.03 L270.1,673.30 L271.6,673.42 L277.6,673.44 L280.6,673.21 L281.6,673.00 L282.6,672.62 L283.4,672.17 L284.1,671.48 L284.9,670.43 L285.4,669.45 L286.1,667.35 L286.9,664.17 L287.6,659.35 L288.1,654.82 L289.1,640.95 L290.1,617.96 L290.9,623.01 L291.4,625.22 L291.9,626.80 L292.4,627.93 L292.9,628.75 L293.6,629.55 L294.4,630.04 L295.9,630.52 L298.1,630.73 L302.4,630.73 L305.1,630.49 L306.6,630.08 L307.6,629.55 L308.6,628.62 L309.4,627.50 L310.4,625.05 L311.1,622.07 L311.9,617.56 L312.4,613.33 L313.4,600.35 L314.4,577.72 L314.6,577.87 L315.4,587.92 L315.9,592.31 L316.4,595.45 L316.9,597.70 L317.4,599.32 L317.9,600.47 L318.6,601.63 L319.1,602.13 L319.9,602.63 L321.4,603.11 L323.9,603.32 L327.4,603.24 L329.1,602.99 L330.6,602.46 L331.6,601.76 L332.6,600.54 L333.4,599.07 L334.1,596.83 L334.9,593.43 L335.4,590.24 L336.4,580.46 L337.4,563.42 L337.6,562.44 L338.1,574.98 L338.6,583.97 L339.1,590.42 L339.6,595.03 L340.4,599.62 L341.1,602.41 L341.6,603.62 L342.1,604.50 L343.1,605.57 L344.4,606.21 L346.1,606.54 L349.1,606.66 L352.6,606.56 L354.4,606.33 L355.6,605.97 L356.6,605.42 L357.6,604.47 L358.4,603.32 L359.1,601.58 L360.1,597.77 L361.1,591.14 L361.9,583.10 L362.6,597.68 L363.4,607.25 L363.9,611.43 L364.4,614.43 L364.9,616.57 L365.4,618.11 L365.9,619.21 L366.6,620.31 L367.6,621.13 L368.6,621.55 L370.1,621.83 L372.1,621.95 L375.4,621.94 L377.9,621.77 L379.9,621.31 L380.6,620.96 L381.4,620.42 L382.4,619.25 L383.4,617.21 L384.1,614.73 L384.9,610.97 L385.6,605.27 L386.1,599.92 L386.4,601.95 L386.9,618.18 L387.4,629.81 L388.1,641.37 L388.6,646.43 L389.4,651.45 L390.1,654.50 L390.9,656.35 L391.6,657.47 L392.6,658.31 L393.6,658.74 L395.1,659.03 L398.4,659.16 L402.4,659.05 L404.4,658.74 L405.9,658.14 L406.6,657.59 L407.4,656.76 L408.1,655.50 L408.6,654.32 L409.6,650.69 L410.6,644.37 L411.4,662.66 L411.9,671.00 L412.4,676.98 L412.9,681.27 L413.4,684.34 L414.1,687.39 L414.9,689.24 L415.6,690.37 L416.4,691.05 L417.4,691.56 L418.6,691.86 L421.4,692.06 L425.9,692.03 L428.1,691.86 L429.9,691.47 L430.9,691.01 L431.6,690.44 L432.4,689.59 L432.9,688.78 L433.9,686.31 L434.9,682.02 L435.1,684.79 L435.9,703.37 L436.6,714.63 L437.1,719.56 L437.6,723.08 L438.4,726.59 L439.1,728.72 L439.9,730.01 L440.6,730.79 L441.6,731.38 L442.6,731.68 L444.6,731.91 L448.1,731.98 L451.6,731.90 L453.9,731.64 L454.9,731.38 L455.9,730.92 L456.6,730.36 L457.4,729.51 L458.4,727.66 L459.4,724.44 L460.1,740.99 L460.9,751.22 L461.4,755.70 L461.9,758.90 L462.4,761.20 L463.1,763.48 L463.9,764.86 L464.6,765.70 L465.6,766.33 L466.6,766.66 L468.1,766.87 L470.1,766.96 L477.1,766.86 L479.6,766.46 L480.6,766.05 L481.4,765.56 L482.1,764.82 L482.6,764.12 L483.6,761.98 L483.9,764.46 L484.6,777.97 L485.1,783.88 L485.6,788.11 L486.1,791.14 L486.9,794.15 L487.6,795.98 L488.4,797.09 L489.1,797.76 L489.9,798.17 L490.9,798.48 L492.1,798.66 L494.6,798.77 L499.1,798.76 L501.4,798.67 L503.1,798.46 L504.9,797.90 L506.1,796.99 L507.1,795.64 L508.1,793.30 L508.9,805.34 L509.6,812.64 L510.1,815.83 L510.6,818.12 L511.1,819.76 L511.6,820.93 L512.1,821.77 L512.9,822.61 L513.9,823.24 L514.9,823.56 L517.9,823.85 L524.4,823.86 L527.6,823.65 L529.6,823.15 L530.4,822.76 L531.1,822.17 L531.9,821.28 L532.4,820.44 L532.6,822.51 L533.4,832.54 L533.9,836.92 L534.4,840.06 L534.9,842.31 L535.6,844.55 L536.4,845.91 L537.1,846.73 L537.9,847.23 L538.6,847.53 L540.9,847.90 L547.9,847.97 L551.9,847.72 L553.6,847.27 L554.9,846.54 L555.9,845.46 L556.9,843.76 L557.6,853.02 L558.1,857.07 L558.6,859.97 L559.1,862.05 L559.9,864.11 L560.6,865.37 L561.4,866.13 L562.1,866.59 L562.9,866.87 L565.1,867.20 L571.9,867.28 L576.1,867.07 L577.9,866.68 L579.1,866.06 L580.1,865.14 L581.1,863.54 L581.4,864.71 L582.1,870.37 L582.9,873.81 L583.4,875.31 L583.9,876.38 L584.4,877.15 L585.1,877.92 L585.9,878.38 L586.6,878.67 L588.9,879.00 L595.1,879.09 L600.1,878.95 L601.9,878.71 L603.4,878.20 L604.4,877.53 L605.6,876.14 L606.4,880.38 L606.9,882.23 L607.4,883.55 L607.9,884.50 L608.6,885.44 L609.6,886.15 L610.6,886.52 L612.9,886.81 L617.4,886.89 L623.6,886.83 L626.6,886.55 L628.1,886.08 L629.4,885.26 L630.1,884.42 L631.1,882.58 L631.4,882.32 L632.1,883.02 L633.1,883.55 L634.4,883.86 L636.1,884.02 L641.4,884.09 L646.9,884.02 L649.1,883.81 L650.9,883.33 L651.6,882.93 L652.4,882.33 L653.1,881.41 L653.6,880.55 L654.6,877.92 L655.6,873.32 L657.4,873.95 L659.4,874.21 L664.6,874.29 L670.1,874.20 L672.1,874.00 L673.6,873.61 L674.6,873.09 L675.6,872.20 L676.4,871.11 L677.1,869.46 L678.1,865.87 L679.1,859.60 L680.1,850.28 L680.9,850.68 L681.6,850.92 L683.6,851.20 L688.6,851.29 L694.1,851.20 L696.1,850.98 L697.6,850.57 L698.6,850.03 L699.6,849.09 L700.4,847.95 L701.1,846.22 L701.9,843.59 L702.4,841.12 L703.4,833.56 L704.4,820.37 L706.1,821.23 L708.4,821.59 L715.6,821.67 L719.6,821.43 L721.4,820.98 L722.6,820.26 L723.6,819.18 L724.6,817.31 L725.4,815.05 L726.1,811.61 L727.1,804.11 L727.9,795.02 L728.6,781.23 L728.9,778.32 L729.6,778.90 L730.4,779.26 L731.4,779.52 L732.6,779.68 L739.4,779.77 L743.6,779.54 L745.4,779.12 L746.6,778.45 L747.6,777.44 L748.6,775.69 L749.4,773.56 L750.1,770.34 L750.9,765.45 L751.4,760.85 L752.4,746.77 L753.1,729.70 L753.6,730.38 L754.4,731.06 L755.1,731.47 L755.9,731.72 L758.1,732.01 L762.9,732.08 L767.1,731.96 L769.4,731.63 L770.4,731.28 L771.1,730.85 L771.9,730.21 L772.4,729.60 L773.4,727.75 L774.1,725.50 L774.9,722.09 L775.4,718.89 L776.4,709.07 L777.4,691.97 L777.6,689.45 L778.6,690.79 L779.9,691.59 L781.6,692.01 L784.6,692.17 L790.1,692.13 L793.1,691.85 L794.1,691.58 L795.1,691.12 L795.9,690.57 L796.6,689.72 L797.6,687.88 L798.4,685.65 L799.1,682.27 L799.9,677.14 L800.9,665.95 L801.9,646.77 L802.6,650.64 L803.4,652.98 L803.9,654.01 L804.4,654.74 L805.1,655.47 L805.9,655.92 L807.1,656.30 L809.1,656.52 L812.9,656.57 L816.1,656.47 L817.6,656.30 L818.9,655.99 L819.9,655.55 L820.9,654.76 L821.9,653.40 L822.6,651.74 L823.4,649.23 L824.1,645.42 L825.1,637.12 L826.1,622.64 L826.4,623.23 L826.9,631.13 L827.4,636.79 L827.9,640.85 L828.4,643.75 L829.1,646.64 L829.9,648.40 L830.9,649.71 L832.1,650.49 L833.6,650.87 L835.6,651.03 L838.9,651.01 L841.1,650.81 L842.4,650.52 L843.4,650.09 L844.4,649.34 L845.1,648.42 L845.9,647.04 L846.4,645.74 L847.4,641.76 L848.1,636.93 L849.1,626.40 L849.4,625.40 L849.9,634.86 L850.4,641.65 L850.9,646.51 L851.4,649.99 L851.9,652.49 L852.6,654.97 L853.1,656.06 L853.6,656.84 L854.6,657.79 L855.9,658.36 L857.4,658.64 L860.1,658.76 L863.9,658.72 L865.9,658.57 L867.4,658.27 L868.4,657.87 L869.4,657.19 L870.1,656.35 L870.9,655.09 L871.9,652.33 L872.9,647.52 L873.6,641.68 L874.6,664.33 L875.4,674.63 L875.9,679.13 L876.6,683.60 L877.4,686.32 L878.1,687.96 L878.9,688.96 L879.6,689.57 L880.6,690.02 L881.9,690.29 L884.6,690.46 L888.9,690.44 L891.1,690.29 L892.9,689.94 L893.9,689.52 L894.6,689.02 L895.4,688.25 L895.9,687.53 L896.9,685.33 L897.9,681.49 L898.1,683.05 L898.6,695.70 L899.1,704.77 L899.9,713.79 L900.4,717.74 L900.9,720.56 L901.6,723.37 L902.4,725.07 L903.1,726.11 L903.9,726.73 L904.9,727.20 L905.9,727.44 L907.4,727.61 L909.9,727.68 L916.4,727.54 L918.6,727.15 L920.1,726.44 L920.9,725.79 L921.4,725.17 L922.4,723.30 L923.1,742.62 L923.6,751.71 L924.1,758.23 L924.6,762.90 L925.4,767.54 L926.1,770.36 L926.9,772.07 L927.9,773.35 L928.9,774.01 L930.4,774.44 L932.9,774.65 L939.4,774.66 L942.9,774.45 L944.1,774.20 L945.1,773.83 L945.9,773.37 L946.6,772.69 L946.9,774.88 L947.6,790.04 L948.4,799.23 L948.9,803.25 L949.4,806.12 L950.1,808.99 L950.9,810.72 L951.9,812.03 L952.6,812.57 L953.4,812.89 L955.4,813.27 L959.1,813.39 L964.9,813.32 L967.6,813.03 L968.6,812.76 L969.6,812.29 L970.4,811.71 L971.1,810.84 L971.9,824.98 L972.6,834.04 L973.1,838.00 L973.6,840.83 L974.4,843.65 L975.1,845.36 L975.6,846.11 L976.4,846.85 L977.1,847.30 L977.9,847.58 L979.9,847.89 L983.9,847.99 L989.4,847.91 L992.1,847.58 L993.1,847.26 L993.9,846.88 L994.6,846.30 L995.4,845.42 L995.6,846.65 L996.1,852.62 L996.6,856.89 L997.1,859.96 L997.6,862.15 L998.1,863.72 L998.9,865.29 L999.9,866.46 L1000.9,867.06 L1002.4,867.47 L1004.4,867.64 L1014.6,867.62 L1016.4,867.49 L1017.9,867.21 L1018.9,866.85 L1019.9,866.22 L1020.9,869.56 L1021.4,870.59 L1022.1,871.62 L1022.9,872.24 L1023.9,872.71 L1025.2,872.99 L1026.7,873.12 L1037.2,873.17 L1039.7,873.07 L1041.4,872.86 L1042.9,872.41 L1043.9,871.83 L1044.7,871.12 L1045.7,869.75 L1046.7,870.36 L1047.7,870.67 L1048.9,870.86 L1050.9,870.96 L1060.9,870.91 L1063.2,870.67 L1064.7,870.25 L1065.7,869.70 L1066.4,869.02 L1067.2,868.00 L1067.9,866.45 L1068.9,863.06 L1069.9,857.17 L1070.2,856.83 L1071.7,857.44 L1073.7,857.71 L1078.2,857.79 L1084.7,857.73 L1086.7,857.59 L1088.2,857.30 L1089.4,856.79 L1090.4,856.03 L1091.2,855.10 L1091.7,854.22 L1092.7,851.53 L1093.4,848.26 L1094.4,841.84 L1095.7,842.66 L1097.4,843.10 L1099.9,843.28 L1104.9,843.34 L1108.9,843.30 L1111.2,843.11 L1112.9,842.66 L1114.2,841.91 L1114.9,841.13 L1115.7,839.95 L1116.7,837.36 L1117.7,832.85 L1118.7,824.98 L1118.9,824.74 L1119.9,825.68 L1120.9,826.17 L1122.4,826.50 L1124.9,826.67 L1131.2,826.73 L1134.7,826.60 L1136.9,826.15 L1137.7,825.83 L1138.4,825.32 L1139.2,824.56 L1139.9,823.40 L1140.7,821.64 L1141.2,819.98 L1142.2,814.90 L1143.2,807.18 L1143.9,808.87 L1144.9,810.13 L1145.9,810.79 L1147.4,811.23 L1150.9,811.47 L1157.9,811.40 L1160.4,811.11 L1161.4,810.82 L1162.2,810.46 L1163.2,809.69 L1163.9,808.76 L1164.7,807.34 L1165.4,805.19 L1166.4,800.50 L1167.4,792.33 L1168.4,796.53 L1169.2,798.57 L1170.2,800.09 L1170.7,800.55 L1171.4,801.00 L1172.4,801.34 L1173.9,801.57 L1179.2,801.68 L1183.9,801.51 L1185.4,801.26 L1186.4,800.93 L1187.4,800.36 L1188.2,799.67 L1188.9,798.62 L1189.7,797.03 L1190.7,793.56 L1191.7,787.52 L1191.9,787.06 L1192.4,790.98 L1192.9,793.79 L1193.7,796.59 L1194.4,798.29 L1195.4,799.56 L1196.4,800.21 L1197.7,800.60 L1199.7,800.82 L1204.2,800.86 L1207.4,800.70 L1209.4,800.29 L1210.2,799.97 L1210.9,799.49 L1211.7,798.76 L1212.2,798.07 L1213.2,795.97 L1213.9,793.42 L1214.9,788.24 L1215.4,793.24 L1215.9,796.83 L1216.4,799.40 L1217.2,801.96 L1217.9,803.51 L1218.7,804.45 L1219.7,805.16 L1221.2,805.63 L1224.4,805.87 L1230.7,805.81 L1233.2,805.55 L1234.9,804.97 L1235.7,804.49 L1236.4,803.76 L1237.4,802.18 L1238.4,799.41 L1239.2,796.06 L1239.4,797.07 L1239.9,801.30 L1240.4,804.33 L1240.9,806.51 L1241.4,808.06 L1242.2,809.61 L1242.9,810.55 L1243.9,811.26 L1245.2,811.68 L1246.4,811.86 L1248.4,811.96 L1254.9,811.92 L1257.7,811.65 L1259.4,811.07 L1260.2,810.59 L1260.9,809.86 L1261.9,808.27 L1262.7,806.34 L1263.7,802.66 L1264.2,807.75 L1264.7,811.39 L1265.2,814.00 L1265.7,815.87 L1266.4,817.73 L1267.2,818.86 L1268.2,819.71 L1269.4,820.21 L1270.7,820.43 L1272.4,820.55 L1278.7,820.55 L1281.7,820.35 L1283.7,819.83 L1284.4,819.43 L1285.2,818.82 L1286.2,817.51 L1287.2,815.21 L1287.9,812.42 L1288.2,813.48 L1288.7,817.20 L1289.2,819.86 L1289.7,821.77 L1290.2,823.14 L1290.7,824.12 L1291.4,825.10 L1292.4,825.83 L1293.4,826.20 L1295.9,826.52 L1300.7,826.59 L1305.4,826.49 L1307.9,826.17 L1309.4,825.62 L1310.4,824.88 L1311.4,823.61 L1312.4,821.74 L1312.9,824.25 L1313.7,826.75 L1314.2,827.84 L1314.7,828.62 L1315.7,829.58 L1316.9,830.16 L1318.4,830.44 L1320.7,830.56 L1324.9,830.59 L1330.4,830.47 L1331.9,830.29 L1333.2,829.98 L1334.2,829.53 L1335.2,828.73 L1335.9,827.76 L1336.7,826.30 L1336.9,826.10 L1338.4,826.10" stroke="#28429f" stroke-width="3.3"/>
<path d="M143.4,941.29 L143.9,940.44 L144.7,939.60 L145.7,938.97 L146.7,938.64 L149.2,938.36 L157.2,938.26 L159.9,938.10 L161.9,937.70 L162.7,937.40 L163.4,936.93 L164.2,936.22 L164.9,935.15 L165.7,933.51 L166.2,931.98 L167.2,927.29 L168.4,917.31 L169.2,915.22 L170.2,913.65 L170.7,913.18 L171.4,912.72 L173.2,912.22 L175.4,912.05 L182.2,911.89 L183.7,911.73 L184.9,911.47 L185.9,911.07 L186.9,910.38 L187.7,909.55 L188.4,908.28 L189.2,906.36 L189.7,904.55 L190.7,899.01 L191.7,889.36 L192.7,872.69 L193.4,868.37 L193.9,866.48 L194.4,865.12 L194.9,864.15 L195.7,863.19 L196.7,862.46 L197.7,862.09 L199.9,861.78 L207.2,861.50 L208.7,861.24 L209.9,860.79 L210.9,860.11 L211.9,858.92 L212.7,857.49 L213.4,855.31 L214.4,850.56 L215.4,842.28 L216.2,832.24 L217.2,813.00 L217.7,809.54 L218.2,807.07 L218.7,805.29 L219.2,804.02 L219.7,803.10 L220.4,802.20 L221.2,801.65 L222.2,801.23 L224.4,800.89 L231.4,800.60 L232.9,800.33 L234.2,799.86 L235.2,799.17 L235.9,798.32 L236.7,797.04 L237.4,795.10 L238.2,792.15 L238.7,789.38 L239.7,780.90 L240.7,766.12 L241.4,748.58 L241.9,744.48 L242.4,741.53 L242.9,739.43 L243.4,737.92 L243.9,736.83 L244.7,735.76 L245.4,735.11 L246.4,734.62 L247.4,734.36 L248.7,734.21 L255.7,733.87 L257.1,733.57 L258.1,733.18 L259.1,732.49 L259.9,731.67 L260.6,730.41 L261.4,728.50 L262.1,725.60 L262.9,721.21 L263.9,711.63 L264.6,700.02 L265.6,674.69 L265.9,671.66 L266.4,672.64 L267.1,673.61 L267.9,674.19 L268.9,674.63 L270.1,674.90 L271.6,675.02 L277.6,675.04 L280.6,674.81 L281.6,674.60 L282.6,674.22 L283.4,673.77 L284.1,673.08 L284.9,672.03 L285.4,671.05 L286.1,668.95 L286.9,665.77 L287.6,660.95 L288.1,656.42 L289.1,642.55 L290.1,619.56 L290.9,624.61 L291.4,626.82 L291.9,628.40 L292.4,629.53 L292.9,630.35 L293.6,631.15 L294.4,631.64 L295.9,632.12 L298.1,632.33 L302.4,632.33 L305.1,632.09 L306.6,631.68 L307.6,631.15 L308.6,630.22 L309.4,629.10 L310.4,626.65 L311.1,623.67 L311.9,619.16 L312.4,614.93 L313.4,601.95 L314.4,579.32 L314.6,579.47 L315.4,589.52 L315.9,593.91 L316.4,597.05 L316.9,599.30 L317.4,600.92 L317.9,602.07 L318.6,603.23 L319.1,603.73 L319.9,604.23 L321.4,604.71 L323.9,604.92 L327.4,604.84 L329.1,604.59 L330.6,604.06 L331.6,603.36 L332.6,602.14 L333.4,600.67 L334.1,598.43 L334.9,595.03 L335.4,591.84 L336.4,582.06 L337.4,565.02 L337.6,564.04 L338.1,576.58 L338.6,585.57 L339.1,592.02 L339.6,596.63 L340.4,601.22 L341.1,604.01 L341.6,605.22 L342.1,606.10 L343.1,607.17 L344.4,607.81 L346.1,608.14 L349.1,608.26 L352.6,608.16 L354.4,607.93 L355.6,607.57 L356.6,607.02 L357.6,606.07 L358.4,604.92 L359.1,603.18 L360.1,599.37 L361.1,592.74 L361.9,584.70 L362.6,599.28 L363.4,608.85 L363.9,613.03 L364.4,616.03 L364.9,618.17 L365.4,619.71 L365.9,620.81 L366.6,621.91 L367.6,622.73 L368.6,623.15 L370.1,623.43 L372.1,623.55 L375.4,623.54 L377.9,623.37 L379.9,622.91 L380.6,622.56 L381.4,622.02 L382.4,620.85 L383.4,618.81 L384.1,616.33 L384.9,612.57 L385.6,606.87 L386.1,601.52 L386.4,603.55 L386.9,619.78 L387.4,631.41 L388.1,642.97 L388.6,648.03 L389.4,653.05 L390.1,656.10 L390.9,657.95 L391.6,659.07 L392.6,659.91 L393.6,660.34 L395.1,660.63 L398.4,660.76 L402.4,660.65 L404.4,660.34 L405.9,659.74 L406.6,659.19 L407.4,658.36 L408.1,657.10 L408.6,655.92 L409.6,652.29 L410.6,645.97 L411.4,664.26 L411.9,672.60 L412.4,678.58 L412.9,682.87 L413.4,685.94 L414.1,688.99 L414.9,690.84 L415.6,691.97 L416.4,692.65 L417.4,693.16 L418.6,693.46 L421.4,693.66 L425.9,693.63 L428.1,693.46 L429.9,693.07 L430.9,692.61 L431.6,692.04 L432.4,691.19 L432.9,690.38 L433.9,687.91 L434.9,683.62 L435.1,686.39 L435.9,704.97 L436.6,716.23 L437.1,721.16 L437.6,724.68 L438.4,728.19 L439.1,730.32 L439.9,731.61 L440.6,732.39 L441.6,732.98 L442.6,733.28 L444.6,733.51 L448.1,733.58 L451.6,733.50 L453.9,733.24 L454.9,732.98 L455.9,732.52 L456.6,731.96 L457.4,731.11 L458.4,729.26 L459.4,726.04 L460.1,742.59 L460.9,752.82 L461.4,757.30 L461.9,760.50 L462.4,762.80 L463.1,765.08 L463.9,766.46 L464.6,767.30 L465.6,767.93 L466.6,768.26 L468.1,768.47 L470.1,768.56 L477.1,768.46 L479.6,768.06 L480.6,767.65 L481.4,767.16 L482.1,766.42 L482.6,765.72 L483.6,763.58 L483.9,766.06 L484.6,779.57 L485.1,785.48 L485.6,789.71 L486.1,792.74 L486.9,795.75 L487.6,797.58 L488.4,798.69 L489.1,799.36 L489.9,799.77 L490.9,800.08 L492.1,800.26 L494.6,800.37 L499.1,800.36 L501.4,800.27 L503.1,800.06 L504.9,799.50 L506.1,798.59 L507.1,797.24 L508.1,794.90 L508.9,806.94 L509.6,814.24 L510.1,817.43 L510.6,819.72 L511.1,821.36 L511.6,822.53 L512.1,823.37 L512.9,824.21 L513.9,824.84 L514.9,825.16 L517.9,825.45 L524.4,825.46 L527.6,825.25 L529.6,824.75 L530.4,824.36 L531.1,823.77 L531.9,822.88 L532.4,822.04 L532.6,824.11 L533.4,834.14 L533.9,838.52 L534.4,841.66 L534.9,843.91 L535.6,846.15 L536.4,847.51 L537.1,848.33 L537.9,848.83 L538.6,849.13 L540.9,849.50 L547.9,849.57 L551.9,849.32 L553.6,848.87 L554.9,848.14 L555.9,847.06 L556.9,845.36 L557.6,854.62 L558.1,858.67 L558.6,861.57 L559.1,863.65 L559.9,865.71 L560.6,866.97 L561.4,867.73 L562.1,868.19 L562.9,868.47 L565.1,868.80 L571.9,868.88 L576.1,868.67 L577.9,868.28 L579.1,867.66 L580.1,866.74 L581.1,865.14 L581.4,866.31 L582.1,871.97 L582.9,875.41 L583.4,876.91 L583.9,877.98 L584.4,878.75 L585.1,879.52 L585.9,879.98 L586.6,880.27 L588.9,880.60 L595.1,880.69 L600.1,880.55 L601.9,880.31 L603.4,879.80 L604.4,879.13 L605.6,877.74 L606.4,881.98 L606.9,883.83 L607.4,885.15 L607.9,886.10 L608.6,887.04 L609.6,887.75 L610.6,888.12 L612.9,888.41 L617.4,888.49 L623.6,888.43 L626.6,888.15 L628.1,887.68 L629.4,886.86 L630.1,886.02 L631.1,884.18 L631.4,883.92 L632.1,884.62 L633.1,885.15 L634.4,885.46 L636.1,885.62 L641.4,885.69 L646.9,885.62 L649.1,885.41 L650.9,884.93 L651.6,884.53 L652.4,883.93 L653.1,883.01 L653.6,882.15 L654.6,879.52 L655.6,874.92 L657.4,875.55 L659.4,875.81 L664.6,875.89 L670.1,875.80 L672.1,875.60 L673.6,875.21 L674.6,874.69 L675.6,873.80 L676.4,872.71 L677.1,871.06 L678.1,867.47 L679.1,861.20 L680.1,851.88 L680.9,852.28 L681.6,852.52 L683.6,852.80 L688.6,852.89 L694.1,852.80 L696.1,852.58 L697.6,852.17 L698.6,851.63 L699.6,850.69 L700.4,849.55 L701.1,847.82 L701.9,845.19 L702.4,842.72 L703.4,835.16 L704.4,821.97 L706.1,822.83 L708.4,823.19 L715.6,823.27 L719.6,823.03 L721.4,822.58 L722.6,821.86 L723.6,820.78 L724.6,818.91 L725.4,816.65 L726.1,813.21 L727.1,805.71 L727.9,796.62 L728.6,782.83 L728.9,779.92 L729.6,780.50 L730.4,780.86 L731.4,781.12 L732.6,781.28 L739.4,781.37 L743.6,781.14 L745.4,780.72 L746.6,780.05 L747.6,779.04 L748.6,777.29 L749.4,775.16 L750.1,771.94 L750.9,767.05 L751.4,762.45 L752.4,748.37 L753.1,731.30 L753.6,731.98 L754.4,732.66 L755.1,733.07 L755.9,733.32 L758.1,733.61 L762.9,733.68 L767.1,733.56 L769.4,733.23 L770.4,732.88 L771.1,732.45 L771.9,731.81 L772.4,731.20 L773.4,729.35 L774.1,727.10 L774.9,723.69 L775.4,720.49 L776.4,710.67 L777.4,693.57 L777.6,691.05 L778.6,692.39 L779.9,693.19 L781.6,693.61 L784.6,693.77 L790.1,693.73 L793.1,693.45 L794.1,693.18 L795.1,692.72 L795.9,692.17 L796.6,691.32 L797.6,689.48 L798.4,687.25 L799.1,683.87 L799.9,678.74 L800.9,667.55 L801.9,648.37 L802.6,652.24 L803.4,654.58 L803.9,655.61 L804.4,656.34 L805.1,657.07 L805.9,657.52 L807.1,657.90 L809.1,658.12 L812.9,658.17 L816.1,658.07 L817.6,657.90 L818.9,657.59 L819.9,657.15 L820.9,656.36 L821.9,655.00 L822.6,653.34 L823.4,650.83 L824.1,647.02 L825.1,638.72 L826.1,624.24 L826.4,624.83 L826.9,632.73 L827.4,638.39 L827.9,642.45 L828.4,645.35 L829.1,648.24 L829.9,650.00 L830.9,651.31 L832.1,652.09 L833.6,652.47 L835.6,652.63 L838.9,652.61 L841.1,652.41 L842.4,652.12 L843.4,651.69 L844.4,650.94 L845.1,650.02 L845.9,648.64 L846.4,647.34 L847.4,643.36 L848.1,638.53 L849.1,628.00 L849.4,627.00 L849.9,636.46 L850.4,643.25 L850.9,648.11 L851.4,651.59 L851.9,654.09 L852.6,656.57 L853.1,657.66 L853.6,658.44 L854.6,659.39 L855.9,659.96 L857.4,660.24 L860.1,660.36 L863.9,660.32 L865.9,660.17 L867.4,659.87 L868.4,659.47 L869.4,658.79 L870.1,657.95 L870.9,656.69 L871.9,653.93 L872.9,649.12 L873.6,643.28 L874.6,665.93 L875.4,676.23 L875.9,680.73 L876.6,685.20 L877.4,687.92 L878.1,689.56 L878.9,690.56 L879.6,691.17 L880.6,691.62 L881.9,691.89 L884.6,692.06 L888.9,692.04 L891.1,691.89 L892.9,691.54 L893.9,691.12 L894.6,690.62 L895.4,689.85 L895.9,689.13 L896.9,686.93 L897.9,683.09 L898.1,684.65 L898.6,697.30 L899.1,706.37 L899.9,715.39 L900.4,719.34 L900.9,722.16 L901.6,724.97 L902.4,726.67 L903.1,727.71 L903.9,728.33 L904.9,728.80 L905.9,729.04 L907.4,729.21 L909.9,729.28 L916.4,729.14 L918.6,728.75 L920.1,728.04 L920.9,727.39 L921.4,726.77 L922.4,724.90 L923.1,744.22 L923.6,753.31 L924.1,759.83 L924.6,764.50 L925.4,769.14 L926.1,771.96 L926.9,773.67 L927.9,774.95 L928.9,775.61 L930.4,776.04 L932.9,776.25 L939.4,776.26 L942.9,776.05 L944.1,775.80 L945.1,775.43 L945.9,774.97 L946.6,774.29 L946.9,776.48 L947.6,791.64 L948.4,800.83 L948.9,804.85 L949.4,807.72 L950.1,810.59 L950.9,812.32 L951.9,813.63 L952.6,814.17 L953.4,814.49 L955.4,814.87 L959.1,814.99 L964.9,814.92 L967.6,814.63 L968.6,814.36 L969.6,813.89 L970.4,813.31 L971.1,812.44 L971.9,826.58 L972.6,835.64 L973.1,839.60 L973.6,842.43 L974.4,845.25 L975.1,846.96 L975.6,847.71 L976.4,848.45 L977.1,848.90 L977.9,849.18 L979.9,849.49 L983.9,849.59 L989.4,849.51 L992.1,849.18 L993.1,848.86 L993.9,848.48 L994.6,847.90 L995.4,847.02 L995.6,848.25 L996.1,854.22 L996.6,858.49 L997.1,861.56 L997.6,863.75 L998.1,865.32 L998.9,866.89 L999.9,868.06 L1000.9,868.66 L1002.4,869.07 L1004.4,869.24 L1014.6,869.22 L1016.4,869.09 L1017.9,868.81 L1018.9,868.45 L1019.9,867.82 L1020.9,871.16 L1021.4,872.19 L1022.1,873.22 L1022.9,873.84 L1023.9,874.31 L1025.2,874.59 L1026.7,874.72 L1037.2,874.77 L1039.7,874.67 L1041.4,874.46 L1042.9,874.01 L1043.9,873.43 L1044.7,872.72 L1045.7,871.35 L1046.7,871.96 L1047.7,872.27 L1048.9,872.46 L1050.9,872.56 L1060.9,872.51 L1063.2,872.27 L1064.7,871.85 L1065.7,871.30 L1066.4,870.62 L1067.2,869.60 L1067.9,868.05 L1068.9,864.66 L1069.9,858.77 L1070.2,858.43 L1071.7,859.04 L1073.7,859.31 L1078.2,859.39 L1084.7,859.33 L1086.7,859.16 L1088.2,858.86 L1089.4,858.33 L1090.4,857.54 L1091.2,856.60 L1091.7,855.72 L1092.7,853.01 L1093.4,849.73 L1094.4,843.30 L1095.7,844.10 L1097.4,844.51 L1099.9,844.65 L1104.9,844.64 L1108.9,844.53 L1111.2,844.31 L1112.9,843.83 L1114.2,843.06 L1114.9,842.27 L1115.7,841.07 L1116.7,838.47 L1117.7,833.95 L1118.7,826.06 L1118.9,825.81 L1119.9,826.74 L1120.9,827.22 L1122.4,827.53 L1124.9,827.66 L1131.2,827.62 L1134.7,827.43 L1136.9,826.95 L1137.7,826.62 L1138.4,826.10 L1139.2,825.33 L1139.9,824.16 L1140.7,822.38 L1141.2,820.72 L1142.2,815.62 L1143.2,807.89 L1143.9,809.56 L1144.9,810.81 L1145.9,811.45 L1147.4,811.87 L1151.2,812.08 L1157.9,812.00 L1160.4,811.71 L1161.4,811.42 L1162.2,811.06 L1163.2,810.29 L1163.9,809.36 L1164.7,807.94 L1165.4,805.79 L1166.4,801.10 L1167.4,792.93 L1168.4,797.13 L1169.2,799.17 L1170.2,800.69 L1170.7,801.15 L1171.4,801.60 L1172.4,801.94 L1173.9,802.17 L1179.2,802.28 L1183.9,802.11 L1185.4,801.86 L1186.4,801.53 L1187.4,800.96 L1188.2,800.27 L1188.9,799.22 L1189.7,797.63 L1190.7,794.16 L1191.7,788.12 L1191.9,787.66 L1192.4,791.58 L1192.9,794.39 L1193.7,797.19 L1194.4,798.89 L1195.4,800.16 L1196.4,800.81 L1197.7,801.20 L1199.7,801.42 L1204.2,801.46 L1207.4,801.30 L1209.4,800.89 L1210.2,800.57 L1210.9,800.09 L1211.7,799.36 L1212.2,798.67 L1213.2,796.57 L1213.9,794.02 L1214.9,788.84 L1215.4,793.84 L1215.9,797.43 L1216.4,800.00 L1217.2,802.56 L1217.9,804.11 L1218.7,805.05 L1219.7,805.76 L1221.2,806.23 L1224.4,806.47 L1230.7,806.41 L1233.2,806.15 L1234.9,805.57 L1235.7,805.09 L1236.4,804.36 L1237.4,802.78 L1238.4,800.01 L1239.2,796.66 L1239.4,797.67 L1239.9,801.90 L1240.4,804.93 L1240.9,807.11 L1241.4,808.66 L1242.2,810.21 L1242.9,811.15 L1243.9,811.86 L1245.2,812.28 L1246.4,812.46 L1248.4,812.56 L1254.9,812.52 L1257.7,812.25 L1259.4,811.67 L1260.2,811.19 L1260.9,810.46 L1261.9,808.87 L1262.7,806.94 L1263.7,803.26 L1264.2,808.35 L1264.7,811.99 L1265.2,814.60 L1265.7,816.47 L1266.4,818.33 L1267.2,819.46 L1268.2,820.31 L1269.4,820.81 L1270.7,821.03 L1272.4,821.15 L1278.7,821.15 L1281.7,820.95 L1283.7,820.43 L1284.4,820.03 L1285.2,819.42 L1286.2,818.11 L1287.2,815.81 L1287.9,813.02 L1288.2,814.08 L1288.7,817.80 L1289.2,820.46 L1289.7,822.37 L1290.2,823.74 L1290.7,824.72 L1291.4,825.70 L1292.4,826.43 L1293.4,826.80 L1295.9,827.12 L1300.7,827.19 L1305.4,827.09 L1307.9,826.77 L1309.4,826.22 L1310.4,825.48 L1311.4,824.21 L1312.4,822.34 L1312.9,824.85 L1313.7,827.35 L1314.2,828.44 L1314.7,829.22 L1315.7,830.18 L1316.9,830.76 L1318.4,831.04 L1320.7,831.16 L1324.9,831.19 L1330.4,831.07 L1331.9,830.89 L1333.2,830.58 L1334.2,830.13 L1335.2,829.33 L1335.9,828.36 L1336.7,826.90 L1336.9,826.70 L1338.4,826.70" stroke="#28429f" stroke-width="3.3"/>
<g fill="#151515"><circle cx="152.5" cy="929.6" r="8.9"/><circle cx="164.7" cy="929.6" r="8.9"/><circle cx="176.9" cy="892.4" r="8.9"/><circle cx="189.1" cy="892.4" r="8.9"/><circle cx="201.3" cy="843.3" r="8.9"/><circle cx="213.5" cy="843.3" r="8.9"/><circle cx="225.6" cy="760.6" r="8.9"/><circle cx="237.8" cy="760.6" r="8.9"/><circle cx="250.0" cy="708.2" r="8.9"/><circle cx="262.2" cy="708.2" r="8.9"/><circle cx="274.4" cy="615.6" r="8.9"/><circle cx="286.6" cy="615.6" r="8.9"/><circle cx="298.8" cy="599.9" r="8.9"/><circle cx="310.9" cy="599.9" r="8.9"/><circle cx="323.1" cy="544.1" r="8.9"/><circle cx="335.3" cy="544.1" r="8.9"/><circle cx="347.5" cy="578.4" r="8.9"/><circle cx="359.7" cy="578.4" r="8.9"/><circle cx="371.9" cy="578.4" r="8.9"/><circle cx="384.1" cy="578.4" r="8.9"/><circle cx="396.2" cy="646.5" r="8.9"/><circle cx="408.4" cy="646.5" r="8.9"/><circle cx="420.6" cy="674.3" r="8.9"/><circle cx="432.8" cy="674.3" r="8.9"/><circle cx="445.0" cy="735.0" r="8.9"/><circle cx="457.2" cy="735.0" r="8.9"/><circle cx="469.3" cy="772.9" r="8.9"/><circle cx="481.5" cy="772.9" r="8.9"/><circle cx="493.7" cy="814.2" r="8.9"/><circle cx="505.9" cy="814.2" r="8.9"/><circle cx="518.1" cy="847.7" r="8.9"/><circle cx="530.3" cy="847.7" r="8.9"/><circle cx="542.5" cy="868.9" r="8.9"/><circle cx="554.6" cy="868.9" r="8.9"/><circle cx="566.8" cy="893.7" r="8.9"/><circle cx="579.0" cy="893.7" r="8.9"/><circle cx="591.2" cy="894.7" r="8.9"/><circle cx="603.4" cy="894.7" r="8.9"/><circle cx="615.6" cy="896.9" r="8.9"/><circle cx="627.8" cy="896.9" r="8.9"/><circle cx="639.9" cy="883.4" r="8.9"/><circle cx="652.1" cy="883.4" r="8.9"/><circle cx="664.3" cy="859.7" r="8.9"/><circle cx="676.5" cy="859.7" r="8.9"/><circle cx="688.7" cy="828.4" r="8.9"/><circle cx="700.9" cy="828.4" r="8.9"/><circle cx="713.0" cy="774.1" r="8.9"/><circle cx="725.2" cy="774.1" r="8.9"/><circle cx="737.4" cy="729.6" r="8.9"/><circle cx="749.6" cy="729.6" r="8.9"/><circle cx="761.8" cy="662.4" r="8.9"/><circle cx="774.0" cy="662.4" r="8.9"/><circle cx="786.2" cy="627.8" r="8.9"/><circle cx="798.3" cy="627.8" r="8.9"/><circle cx="810.5" cy="585.8" r="8.9"/><circle cx="822.7" cy="585.8" r="8.9"/><circle cx="834.9" cy="585.8" r="8.9"/><circle cx="847.1" cy="585.8" r="8.9"/><circle cx="859.3" cy="602.7" r="8.9"/><circle cx="871.5" cy="602.7" r="8.9"/><circle cx="883.6" cy="631.1" r="8.9"/><circle cx="895.8" cy="631.1" r="8.9"/><circle cx="908.0" cy="690.9" r="8.9"/><circle cx="920.2" cy="690.9" r="8.9"/><circle cx="932.4" cy="736.8" r="8.9"/><circle cx="944.6" cy="736.8" r="8.9"/><circle cx="956.7" cy="798.0" r="8.9"/><circle cx="968.9" cy="798.0" r="8.9"/><circle cx="981.1" cy="831.9" r="8.9"/><circle cx="993.3" cy="831.9" r="8.9"/><circle cx="1005.5" cy="870.7" r="8.9"/><circle cx="1017.7" cy="870.7" r="8.9"/><circle cx="1029.9" cy="884.2" r="8.9"/><circle cx="1042.0" cy="884.2" r="8.9"/><circle cx="1054.2" cy="889.3" r="8.9"/><circle cx="1066.4" cy="889.3" r="8.9"/><circle cx="1078.6" cy="888.6" r="8.9"/><circle cx="1090.8" cy="888.6" r="8.9"/><circle cx="1103.0" cy="871.3" r="8.9"/><circle cx="1115.2" cy="871.3" r="8.9"/><circle cx="1127.3" cy="860.8" r="8.9"/><circle cx="1139.5" cy="860.8" r="8.9"/><circle cx="1151.7" cy="826.5" r="8.9"/><circle cx="1163.9" cy="826.5" r="8.9"/><circle cx="1176.1" cy="808.0" r="8.9"/><circle cx="1188.3" cy="808.0" r="8.9"/><circle cx="1200.4" cy="772.1" r="8.9"/><circle cx="1212.6" cy="772.1" r="8.9"/><circle cx="1224.8" cy="747.2" r="8.9"/><circle cx="1237.0" cy="747.2" r="8.9"/><circle cx="1249.2" cy="718.5" r="8.9"/><circle cx="1261.4" cy="718.5" r="8.9"/><circle cx="1273.6" cy="694.8" r="8.9"/><circle cx="1285.7" cy="694.8" r="8.9"/><circle cx="1297.9" cy="683.3" r="8.9"/><circle cx="1310.1" cy="683.3" r="8.9"/><circle cx="1322.3" cy="678.9" r="8.9"/><circle cx="1334.5" cy="678.9" r="8.9"/></g>
</g>
<g stroke="#000" fill="none"><rect x="143.4" y="17.0" width="1195.2" height="420.7" stroke-width="2.7"/><path d="M143.4,437.7 v-10.5 M143.4,17.0 v10.5 M382.4,437.7 v-10.5 M382.4,17.0 v10.5 M621.5,437.7 v-10.5 M621.5,17.0 v10.5 M860.5,437.7 v-10.5 M860.5,17.0 v10.5 M1099.6,437.7 v-10.5 M1099.6,17.0 v10.5 M1338.6,437.7 v-10.5 M1338.6,17.0 v10.5 M143.4,17.0 h10.5 M1338.6,17.0 h-10.5 M143.4,87.1 h10.5 M1338.6,87.1 h-10.5 M143.4,157.2 h10.5 M1338.6,157.2 h-10.5 M143.4,227.3 h10.5 M1338.6,227.3 h-10.5 M143.4,297.5 h10.5 M1338.6,297.5 h-10.5 M143.4,367.6 h10.5 M1338.6,367.6 h-10.5 M143.4,437.7 h10.5 M1338.6,437.7 h-10.5" stroke-width="1.5"/></g>
<g stroke="#000" fill="none"><rect x="143.4" y="522.0" width="1195.2" height="420.6" stroke-width="2.7"/><path d="M143.4,942.6 v-10.5 M143.4,522.0 v10.5 M382.4,942.6 v-10.5 M382.4,522.0 v10.5 M621.5,942.6 v-10.5 M621.5,522.0 v10.5 M860.5,942.6 v-10.5 M860.5,522.0 v10.5 M1099.6,942.6 v-10.5 M1099.6,522.0 v10.5 M1338.6,942.6 v-10.5 M1338.6,522.0 v10.5 M143.4,522.0 h10.5 M1338.6,522.0 h-10.5 M143.4,574.6 h10.5 M1338.6,574.6 h-10.5 M143.4,627.1 h10.5 M1338.6,627.1 h-10.5 M143.4,679.7 h10.5 M1338.6,679.7 h-10.5 M143.4,732.3 h10.5 M1338.6,732.3 h-10.5 M143.4,784.9 h10.5 M1338.6,784.9 h-10.5 M143.4,837.5 h10.5 M1338.6,837.5 h-10.5 M143.4,890.0 h10.5 M1338.6,890.0 h-10.5 M143.4,942.6 h10.5 M1338.6,942.6 h-10.5" stroke-width="1.5"/></g>
<rect x="1012.0" y="36.5" width="307.6" height="177.1" fill="#fff" stroke="#000" stroke-width="2.7"/>
<path d="M1038.6,66.9 h16.5 m15.3,0 h16.7" stroke="#dd2616" stroke-width="3.1" fill="none"/>
<path d="M1036.9,122.5 H1094.2" stroke="#28429f" stroke-width="3.1" fill="none"/>
<circle cx="1038.6" cy="177.9" r="9.0" fill="#151515"/><circle cx="1092.8" cy="177.9" r="9.0" fill="#151515"/>
<g opacity="0.999" stroke="#111111" stroke-width="0.85" stroke-linejoin="round"><text transform="translate(87.96,25.26) scale(0.958,1.029)" font-size="32.3">1</text><text transform="translate(108.23,25.26) scale(0.862,0.963)" font-size="32.3">.</text><text transform="translate(118.44,25.39) scale(1.010,1.039)" font-size="32.3">0</text><text transform="translate(87.63,95.51) scale(1.010,1.039)" font-size="32.3">0</text><text transform="translate(108.23,95.38) scale(0.862,0.963)" font-size="32.3">.</text><text transform="translate(118.04,95.51) scale(1.043,1.039)" font-size="32.3">9</text><text transform="translate(87.63,165.62) scale(1.010,1.039)" font-size="32.3">0</text><text transform="translate(108.23,165.49) scale(0.862,0.963)" font-size="32.3">.</text><text transform="translate(118.35,165.62) scale(1.021,1.039)" font-size="32.3">8</text><text transform="translate(87.63,235.74) scale(1.010,1.039)" font-size="32.3">0</text><text transform="translate(108.23,235.61) scale(0.862,0.963)" font-size="32.3">.</text><text transform="translate(118.61,235.61) scale(0.985,1.029)" font-size="32.3">7</text><text transform="translate(87.63,305.86) scale(1.010,1.039)" font-size="32.3">0</text><text transform="translate(108.23,305.73) scale(0.862,0.963)" font-size="32.3">.</text><text transform="translate(118.13,305.86) scale(1.045,1.039)" font-size="32.3">6</text><text transform="translate(87.63,375.97) scale(1.010,1.039)" font-size="32.3">0</text><text transform="translate(108.23,375.84) scale(0.862,0.963)" font-size="32.3">.</text><text transform="translate(118.85,375.97) scale(0.950,1.035)" font-size="32.3">5</text><text transform="translate(87.63,446.09) scale(1.010,1.039)" font-size="32.3">0</text><text transform="translate(108.23,445.96) scale(0.862,0.963)" font-size="32.3">.</text><text transform="translate(118.42,445.96) scale(1.012,1.029)" font-size="32.3">4</text><text transform="translate(45.62,530.89) scale(1.010,1.039)" font-size="32.3">0</text><text transform="translate(66.23,530.76) scale(0.862,0.963)" font-size="32.3">.</text><text transform="translate(76.44,530.89) scale(1.010,1.039)" font-size="32.3">0</text><text transform="translate(96.99,530.89) scale(1.010,1.039)" font-size="32.3">0</text><text transform="translate(117.45,530.89) scale(1.021,1.039)" font-size="32.3">8</text><text transform="translate(45.62,583.46) scale(1.010,1.039)" font-size="32.3">0</text><text transform="translate(66.23,583.34) scale(0.862,0.963)" font-size="32.3">.</text><text transform="translate(76.44,583.46) scale(1.010,1.039)" font-size="32.3">0</text><text transform="translate(96.99,583.46) scale(1.010,1.039)" font-size="32.3">0</text><text transform="translate(117.70,583.34) scale(0.985,1.029)" font-size="32.3">7</text><text transform="translate(45.62,636.04) scale(1.010,1.039)" font-size="32.3">0</text><text transform="translate(66.23,635.91) scale(0.862,0.963)" font-size="32.3">.</text><text transform="translate(76.44,636.04) scale(1.010,1.039)" font-size="32.3">0</text><text transform="translate(96.99,636.04) scale(1.010,1.039)" font-size="32.3">0</text><text transform="translate(117.23,636.04) scale(1.045,1.039)" font-size="32.3">6</text><text transform="translate(45.62,688.61) scale(1.010,1.039)" font-size="32.3">0</text><text transform="translate(66.23,688.49) scale(0.862,0.963)" font-size="32.3">.</text><text transform="translate(76.44,688.61) scale(1.010,1.039)" font-size="32.3">0</text><text transform="translate(96.99,688.61) scale(1.010,1.039)" font-size="32.3">0</text><text transform="translate(117.95,688.62) scale(0.950,1.035)" font-size="32.3">5</text><text transform="translate(45.62,741.19) scale(1.010,1.039)" font-size="32.3">0</text><text transform="translate(66.23,741.06) scale(0.862,0.963)" font-size="32.3">.</text><text transform="translate(76.44,741.19) scale(1.010,1.039)" font-size="32.3">0</text><text transform="translate(96.99,741.19) scale(1.010,1.039)" font-size="32.3">0</text><text transform="translate(117.52,741.06) scale(1.012,1.029)" font-size="32.3">4</text><text transform="translate(45.62,793.76) scale(1.010,1.039)" font-size="32.3">0</text><text transform="translate(66.23,793.63) scale(0.862,0.963)" font-size="32.3">.</text><text transform="translate(76.44,793.76) scale(1.010,1.039)" font-size="32.3">0</text><text transform="translate(96.99,793.76) scale(1.010,1.039)" font-size="32.3">0</text><text transform="translate(117.96,793.76) scale(0.968,1.039)" font-size="32.3">3</text><text transform="translate(45.62,846.34) scale(1.010,1.039)" font-size="32.3">0</text><text transform="translate(66.23,846.21) scale(0.862,0.963)" font-size="32.3">.</text><text transform="translate(76.44,846.34) scale(1.010,1.039)" font-size="32.3">0</text><text transform="translate(96.99,846.34) scale(1.010,1.039)" font-size="32.3">0</text><text transform="translate(117.48,846.21) scale(0.970,1.033)" font-size="32.3">2</text><text transform="translate(45.62,898.91) scale(1.010,1.039)" font-size="32.3">0</text><text transform="translate(66.23,898.79) scale(0.862,0.963)" font-size="32.3">.</text><text transform="translate(76.44,898.91) scale(1.010,1.039)" font-size="32.3">0</text><text transform="translate(96.99,898.91) scale(1.010,1.039)" font-size="32.3">0</text><text transform="translate(117.88,898.79) scale(0.958,1.029)" font-size="32.3">1</text><text transform="translate(45.62,951.49) scale(1.010,1.039)" font-size="32.3">0</text><text transform="translate(66.23,951.36) scale(0.862,0.963)" font-size="32.3">.</text><text transform="translate(76.44,951.49) scale(1.010,1.039)" font-size="32.3">0</text><text transform="translate(96.99,951.49) scale(1.010,1.039)" font-size="32.3">0</text><text transform="translate(117.54,951.49) scale(1.010,1.039)" font-size="32.3">0</text><text transform="translate(136.42,473.29) scale(1.010,1.039)" font-size="32.3">0</text><text transform="translate(365.12,473.16) scale(0.970,1.033)" font-size="32.3">2</text><text transform="translate(385.73,473.29) scale(1.010,1.039)" font-size="32.3">0</text><text transform="translate(604.20,473.16) scale(1.012,1.029)" font-size="32.3">4</text><text transform="translate(624.77,473.29) scale(1.010,1.039)" font-size="32.3">0</text><text transform="translate(842.95,473.29) scale(1.045,1.039)" font-size="32.3">6</text><text transform="translate(863.81,473.29) scale(1.010,1.039)" font-size="32.3">0</text><text transform="translate(1082.21,473.29) scale(1.021,1.039)" font-size="32.3">8</text><text transform="translate(1102.85,473.29) scale(1.010,1.039)" font-size="32.3">0</text><text transform="translate(1311.41,473.16) scale(0.958,1.029)" font-size="32.3">1</text><text transform="translate(1331.62,473.29) scale(1.010,1.039)" font-size="32.3">0</text><text transform="translate(1352.17,473.29) scale(1.010,1.039)" font-size="32.3">0</text><text transform="translate(136.42,978.19) scale(1.010,1.039)" font-size="32.3">0</text><text transform="translate(365.12,978.06) scale(0.970,1.033)" font-size="32.3">2</text><text transform="translate(385.73,978.19) scale(1.010,1.039)" font-size="32.3">0</text><text transform="translate(604.20,978.06) scale(1.012,1.029)" font-size="32.3">4</text><text transform="translate(624.77,978.19) scale(1.010,1.039)" font-size="32.3">0</text><text transform="translate(842.95,978.19) scale(1.045,1.039)" font-size="32.3">6</text><text transform="translate(863.81,978.19) scale(1.010,1.039)" font-size="32.3">0</text><text transform="translate(1082.21,978.19) scale(1.021,1.039)" font-size="32.3">8</text><text transform="translate(1102.85,978.19) scale(1.010,1.039)" font-size="32.3">0</text><text transform="translate(1311.41,978.06) scale(0.958,1.029)" font-size="32.3">1</text><text transform="translate(1331.62,978.19) scale(1.010,1.039)" font-size="32.3">0</text><text transform="translate(1352.17,978.19) scale(1.010,1.039)" font-size="32.3">0</text><text transform="translate(502.33,86.60) scale(0.914,1.010)" font-size="32.3">a</text><text transform="translate(523.87,84.48) scale(0.766,0.933)" font-size="32.3">)</text><text transform="translate(545.15,86.59) scale(1.010,1.039)" font-size="32.3">0</text><text transform="translate(565.70,86.59) scale(1.010,1.039)" font-size="32.3">0</text><text transform="translate(586.25,86.59) scale(1.010,1.039)" font-size="32.3">0</text><text transform="translate(616.98,86.59) scale(1.041,1.025)" font-size="32.3">b</text><text transform="translate(637.08,86.60) scale(1.035,1.010)" font-size="32.3">e</text><text transform="translate(657.28,86.60) scale(0.914,1.010)" font-size="32.3">a</text><text transform="translate(676.94,86.46) scale(1.109,1.002)" font-size="32.3">m</text><text transform="translate(502.40,626.59) scale(1.041,1.025)" font-size="32.3">b</text><text transform="translate(524.59,624.48) scale(0.766,0.933)" font-size="32.3">)</text><text transform="translate(545.84,626.46) scale(1.012,1.029)" font-size="32.3">4</text><text transform="translate(566.41,626.59) scale(1.010,1.039)" font-size="32.3">0</text><text transform="translate(586.96,626.59) scale(1.010,1.039)" font-size="32.3">0</text><text transform="translate(617.69,626.59) scale(1.041,1.025)" font-size="32.3">b</text><text transform="translate(637.79,626.60) scale(1.035,1.010)" font-size="32.3">e</text><text transform="translate(657.99,626.60) scale(0.914,1.010)" font-size="32.3">a</text><text transform="translate(677.65,626.46) scale(1.109,1.002)" font-size="32.3">m</text><text transform="translate(665.29,1021.76) scale(1.020,0.995)" font-size="32.3">z</text><text transform="translate(693.70,1019.78) scale(0.766,0.933)" font-size="32.3">(</text><text transform="translate(706.41,1021.76) scale(0.783,1.020)" font-size="32.3">i</text><text transform="translate(714.76,1021.76) scale(1.029,1.002)" font-size="32.3">n</text><text transform="translate(744.96,1021.76) scale(0.976,1.029)" font-size="32.3">A</text><text transform="translate(767.60,1021.76) scale(1.029,1.002)" font-size="32.3">n</text><text transform="translate(787.72,1021.75) scale(1.040,1.004)" font-size="32.3">g</text><text transform="translate(810.29,1019.78) scale(0.766,0.933)" font-size="32.3">)</text><g transform="translate(65.2,295.4) rotate(-90)"><text transform="translate(1.69,-0.34) scale(0.783,1.020)" font-size="32.3">i</text><text transform="translate(10.04,-0.34) scale(1.029,1.002)" font-size="32.3">n</text><text transform="translate(30.04,-0.60) scale(1.254,1.041)" font-size="32.3">t</text><text transform="translate(42.81,-0.20) scale(1.035,1.010)" font-size="32.3">e</text><text transform="translate(63.05,-0.34) scale(1.029,1.002)" font-size="32.3">n</text><text transform="translate(83.73,-0.20) scale(0.910,1.013)" font-size="32.3">s</text><text transform="translate(100.97,-0.34) scale(0.783,1.020)" font-size="32.3">i</text><text transform="translate(108.85,-0.60) scale(1.254,1.041)" font-size="32.3">t</text><text transform="translate(122.14,-0.31) scale(1.031,0.997)" font-size="32.3">y</text></g><g transform="translate(24.9,799.7) rotate(-90)"><text transform="translate(1.69,-0.34) scale(0.783,1.020)" font-size="32.3">i</text><text transform="translate(10.04,-0.34) scale(1.029,1.002)" font-size="32.3">n</text><text transform="translate(30.04,-0.60) scale(1.254,1.041)" font-size="32.3">t</text><text transform="translate(42.81,-0.20) scale(1.035,1.010)" font-size="32.3">e</text><text transform="translate(63.05,-0.34) scale(1.029,1.002)" font-size="32.3">n</text><text transform="translate(83.73,-0.20) scale(0.910,1.013)" font-size="32.3">s</text><text transform="translate(100.97,-0.34) scale(0.783,1.020)" font-size="32.3">i</text><text transform="translate(108.85,-0.60) scale(1.254,1.041)" font-size="32.3">t</text><text transform="translate(122.14,-0.31) scale(1.031,0.997)" font-size="32.3">y</text></g><text transform="translate(1136.13,80.06) scale(0.821,1.034)" font-size="38.75">F</text><text transform="translate(1157.84,80.06) scale(1.005,1.034)" font-size="38.75">D</text><text transform="translate(1199.94,80.22) scale(0.963,1.016)" font-size="38.75">c</text><text transform="translate(1220.69,83.24) scale(1.150,1.095)" font-size="38.75">/</text><text transform="translate(1234.73,80.06) scale(1.019,1.034)" font-size="38.75">4</text><text transform="translate(1259.41,80.21) scale(1.017,1.044)" font-size="38.75">0</text><text transform="translate(1284.06,80.21) scale(1.017,1.044)" font-size="38.75">0</text><text transform="translate(1136.13,135.26) scale(0.821,1.034)" font-size="38.75">F</text><text transform="translate(1157.84,135.26) scale(1.005,1.034)" font-size="38.75">D</text><text transform="translate(1199.94,135.42) scale(0.963,1.016)" font-size="38.75">c</text><text transform="translate(1220.69,138.44) scale(1.150,1.095)" font-size="38.75">/</text><text transform="translate(1234.64,135.41) scale(1.028,1.044)" font-size="38.75">8</text><text transform="translate(1259.41,135.41) scale(1.017,1.044)" font-size="38.75">0</text><text transform="translate(1284.06,135.41) scale(1.017,1.044)" font-size="38.75">0</text><text transform="translate(1135.66,191.66) scale(0.971,1.034)" font-size="38.75">M</text><text transform="translate(1169.41,191.81) scale(0.861,1.044)" font-size="38.75">S</text><text transform="translate(1205.84,191.82) scale(0.963,1.016)" font-size="38.75">c</text><text transform="translate(1226.60,194.84) scale(1.150,1.095)" font-size="38.75">/</text><text transform="translate(1240.64,191.66) scale(1.019,1.034)" font-size="38.75">4</text></g>
</svg>
</body></html>
